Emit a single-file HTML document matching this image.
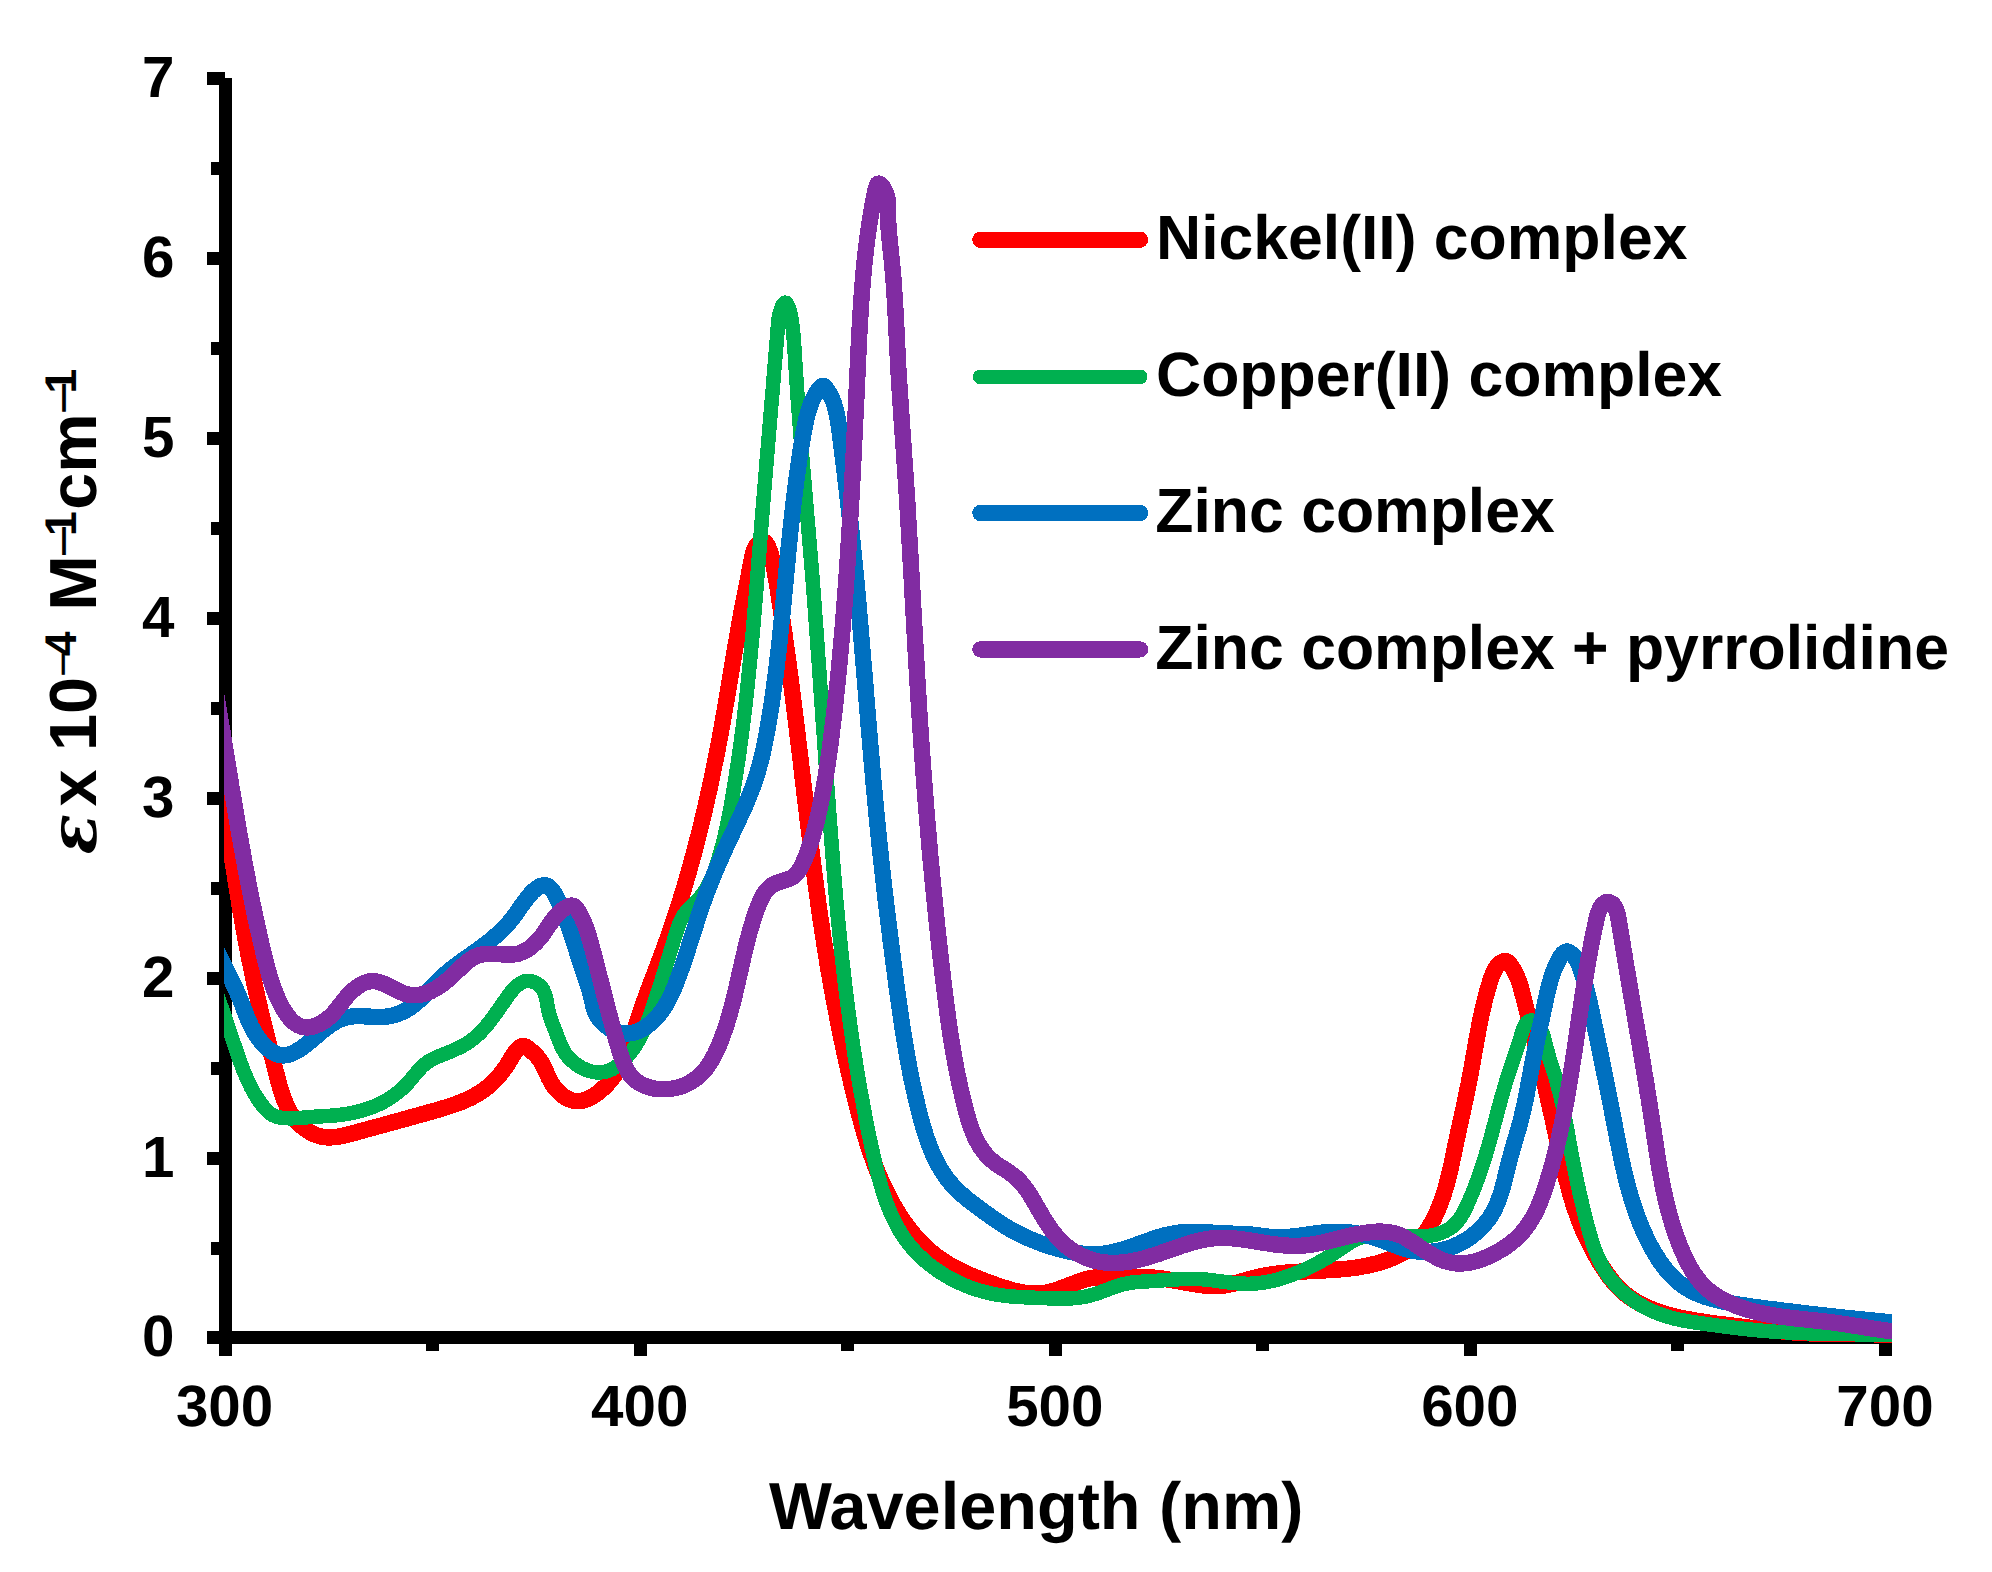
<!DOCTYPE html>
<html><head><meta charset="utf-8"><title>UV-vis spectra</title>
<style>
html,body{margin:0;padding:0;background:#fff}
svg{display:block}
text{font-family:"Liberation Sans",Arial,sans-serif;font-weight:bold;fill:#000}
.tk{font-size:58.33px}
.lg{font-size:62.5px}
.ti{font-size:66.67px}
</style></head>
<body>
<svg width="1992" height="1572" viewBox="0 0 1992 1572" shape-rendering="crispEdges" text-rendering="geometricPrecision">
<rect width="1992" height="1572" fill="#fff"/>
<defs><clipPath id="plot"><rect x="224" y="60" width="1668" height="1300"/></clipPath></defs>
<!-- axes -->
<g fill="#000">
<rect x="218.5" y="78" width="13" height="1277.5"/>
<rect x="207" y="1331" width="1685" height="13"/>
<!-- y major ticks -->
<g id="ymaj"><rect x="207" y="71.5" width="18" height="13"/><rect x="207" y="251.5" width="18" height="13"/><rect x="207" y="431.5" width="18" height="13"/><rect x="207" y="611.5" width="18" height="13"/><rect x="207" y="791.5" width="18" height="13"/><rect x="207" y="971.5" width="18" height="13"/><rect x="207" y="1151.5" width="18" height="13"/></g>
<!-- y minor ticks -->
<g id="ymin"><rect x="211.3" y="161.5" width="10" height="13"/><rect x="211.3" y="341.5" width="10" height="13"/><rect x="211.3" y="521.5" width="10" height="13"/><rect x="211.3" y="701.5" width="10" height="13"/><rect x="211.3" y="881.5" width="10" height="13"/><rect x="211.3" y="1061.5" width="10" height="13"/><rect x="211.3" y="1241.5" width="10" height="13"/></g>
<!-- x major ticks -->
<g id="xmaj"><rect x="633.8" y="1338" width="13" height="17.5"/><rect x="1048.9" y="1338" width="13" height="17.5"/><rect x="1463.9" y="1338" width="13" height="17.5"/><rect x="1879" y="1338" width="13" height="17.5"/></g>
<!-- x minor ticks -->
<g id="xmin"><rect x="426.3" y="1338" width="13" height="13"/><rect x="841.3" y="1338" width="13" height="13"/><rect x="1256.4" y="1338" width="13" height="13"/><rect x="1671.4" y="1338" width="13" height="13"/></g>
</g>
<!-- curves -->
<g clip-path="url(#plot)" fill="none" stroke-width="16.4" stroke-linejoin="round" stroke-linecap="round">
<path d="M215.7 742.4C216.2 745.3 216.6 748.3 217.0 751.3C217.4 754.2 217.8 757.2 218.3 760.2C218.7 763.1 219.1 766.1 219.5 769.1C219.9 772.0 220.3 775.0 220.7 778.0C221.1 780.9 221.6 783.9 222.0 786.9C222.4 789.8 222.8 792.8 223.2 795.8C223.6 798.7 224.0 801.7 224.5 804.7C224.9 807.7 225.3 810.6 225.7 813.6C226.1 816.6 226.5 819.5 227.0 822.5C227.4 825.5 227.8 828.5 228.2 831.4C228.7 834.4 229.1 837.4 229.5 840.3C230.0 843.3 230.4 846.3 230.8 849.3C231.3 852.2 231.7 855.2 232.2 858.2C232.6 861.2 233.0 864.1 233.5 867.1C234.0 870.1 234.4 873.0 234.9 876.0C235.3 879.0 235.8 881.9 236.3 884.9C236.7 887.9 237.2 890.8 237.7 893.8C238.2 896.8 238.7 899.7 239.2 902.7C239.6 905.6 240.1 908.6 240.6 911.6C241.1 914.5 241.7 917.5 242.2 920.4C242.7 923.4 243.2 926.3 243.7 929.3C244.3 932.2 244.8 935.2 245.4 938.1C245.9 941.1 246.4 944.0 247.0 947.0C247.6 949.9 248.1 952.9 248.7 955.8C249.3 958.7 249.9 961.7 250.5 964.6C251.1 967.5 251.7 970.5 252.3 973.4C252.9 976.3 253.5 979.3 254.1 982.2C254.8 985.1 255.4 988.0 256.0 991.0C256.7 993.9 257.3 996.8 258.0 999.7C258.7 1002.6 259.4 1005.5 260.0 1008.4C260.7 1011.3 261.4 1014.3 262.1 1017.2C262.8 1020.1 263.5 1023.0 264.2 1025.9C264.9 1028.8 265.7 1031.7 266.4 1034.6C267.1 1037.5 267.8 1040.4 268.6 1043.3C269.3 1046.3 270.1 1049.2 270.8 1052.1C271.6 1055.0 272.3 1057.9 273.1 1060.8C273.8 1063.8 274.6 1066.7 275.3 1069.6C276.1 1072.5 276.9 1075.5 277.6 1078.4C278.4 1081.3 279.2 1084.3 280.0 1087.2C280.9 1090.1 281.7 1093.0 282.7 1095.8C283.7 1098.6 284.8 1101.4 286.0 1104.1C287.2 1106.8 288.5 1109.5 290.0 1112.0C291.5 1114.6 293.2 1117.0 295.1 1119.4C297.0 1121.7 299.1 1123.9 301.4 1126.0C303.6 1128.0 306.1 1129.8 308.6 1131.4C311.2 1133.0 313.8 1134.3 316.6 1135.3C319.4 1136.3 322.2 1136.9 325.1 1137.2C328.0 1137.5 330.9 1137.4 333.9 1137.2C336.8 1136.9 339.8 1136.4 342.8 1135.8C345.8 1135.1 348.9 1134.4 351.9 1133.6C354.9 1132.8 357.8 1131.9 360.8 1131.1C363.7 1130.3 366.7 1129.5 369.6 1128.7C372.5 1127.9 375.4 1127.1 378.3 1126.3C381.1 1125.6 384.0 1124.8 386.9 1124.0C389.7 1123.2 392.6 1122.4 395.4 1121.6C398.3 1120.8 401.1 1120.1 404.0 1119.3C406.8 1118.5 409.7 1117.7 412.5 1116.9C415.4 1116.1 418.2 1115.3 421.1 1114.5C424.0 1113.7 426.9 1112.9 429.8 1112.1C432.7 1111.3 435.6 1110.5 438.6 1109.6C441.5 1108.7 444.4 1107.9 447.3 1106.9C450.2 1106.0 453.1 1105.0 456.0 1104.0C458.8 1103.0 461.6 1101.9 464.4 1100.7C467.1 1099.5 469.9 1098.2 472.5 1096.9C475.2 1095.5 477.7 1094.0 480.2 1092.4C482.7 1090.8 485.1 1089.1 487.4 1087.3C489.7 1085.4 491.9 1083.5 494.0 1081.3C496.1 1079.2 498.1 1077.0 500.0 1074.7C502.0 1072.4 503.8 1069.9 505.5 1067.4C507.2 1064.9 508.9 1062.3 510.4 1059.6C512.0 1057.0 513.4 1054.2 515.3 1051.8C517.1 1049.4 519.5 1047.0 522.0 1046.1C524.5 1045.3 526.7 1047.0 529.1 1049.0C531.4 1051.0 534.0 1053.2 536.3 1055.6C538.5 1057.9 540.2 1060.4 541.7 1062.9C543.2 1065.5 544.4 1068.1 545.6 1070.7C546.8 1073.3 547.9 1076.0 549.2 1078.6C550.4 1081.2 551.9 1083.8 553.7 1086.3C555.5 1088.8 557.6 1091.2 559.9 1093.3C562.3 1095.4 564.8 1097.2 567.4 1098.6C570.1 1100.0 572.9 1100.9 575.7 1101.2C578.5 1101.5 581.3 1101.1 584.1 1100.3C587.0 1099.4 589.7 1098.1 592.4 1096.6C595.1 1095.0 597.6 1093.1 600.0 1091.1C602.4 1089.2 604.6 1087.1 606.7 1085.0C608.7 1082.8 610.6 1080.5 612.4 1078.2C614.2 1075.9 615.8 1073.4 617.4 1070.9C618.9 1068.4 620.3 1065.9 621.7 1063.3C623.0 1060.6 624.3 1057.9 625.4 1055.2C626.6 1052.5 627.7 1049.7 628.8 1046.9C629.8 1044.1 630.8 1041.3 631.8 1038.4C632.8 1035.5 633.7 1032.7 634.7 1029.8C635.6 1026.9 636.5 1024.0 637.5 1021.1C638.4 1018.2 639.3 1015.3 640.3 1012.4C641.3 1009.6 642.3 1006.7 643.3 1003.9C644.3 1001.0 645.3 998.2 646.3 995.3C647.4 992.5 648.4 989.7 649.5 986.9C650.5 984.1 651.6 981.3 652.7 978.4C653.7 975.6 654.8 972.8 655.9 970.0C656.9 967.2 658.0 964.4 659.1 961.6C660.1 958.8 661.2 956.0 662.2 953.2C663.3 950.4 664.3 947.6 665.3 944.8C666.3 942.0 667.3 939.2 668.3 936.3C669.3 933.5 670.3 930.7 671.3 927.8C672.2 925.0 673.2 922.2 674.1 919.3C675.1 916.5 676.0 913.7 676.9 910.8C677.8 908.0 678.8 905.1 679.7 902.3C680.6 899.4 681.4 896.5 682.3 893.7C683.2 890.8 684.1 887.9 684.9 885.1C685.8 882.2 686.6 879.3 687.4 876.5C688.3 873.6 689.1 870.7 689.9 867.8C690.7 864.9 691.5 862.0 692.3 859.1C693.1 856.3 693.9 853.4 694.6 850.5C695.4 847.6 696.1 844.7 696.9 841.8C697.6 838.9 698.4 836.0 699.1 833.1C699.8 830.2 700.6 827.2 701.3 824.3C702.0 821.4 702.7 818.5 703.4 815.6C704.1 812.7 704.8 809.7 705.4 806.8C706.1 803.9 706.8 801.0 707.4 798.0C708.1 795.1 708.7 792.2 709.4 789.3C710.0 786.3 710.6 783.4 711.3 780.5C711.9 777.5 712.5 774.6 713.1 771.6C713.7 768.7 714.3 765.8 714.9 762.8C715.5 759.9 716.1 756.9 716.7 754.0C717.3 751.0 717.8 748.1 718.4 745.1C719.0 742.2 719.5 739.2 720.1 736.3C720.6 733.3 721.1 730.4 721.7 727.4C722.2 724.5 722.7 721.5 723.3 718.6C723.8 715.6 724.3 712.7 724.8 709.7C725.3 706.7 725.8 703.8 726.4 700.8C726.9 697.9 727.4 694.9 727.9 692.0C728.4 689.0 728.8 686.0 729.3 683.1C729.8 680.1 730.3 677.2 730.8 674.2C731.3 671.2 731.8 668.3 732.3 665.3C732.8 662.4 733.3 659.4 733.8 656.5C734.3 653.5 734.8 650.6 735.3 647.6C735.8 644.7 736.3 641.7 736.8 638.8C737.3 635.8 737.8 632.9 738.3 629.9C738.8 627.0 739.4 624.0 739.9 621.1C740.4 618.2 741.0 615.2 741.5 612.3C742.1 609.4 742.6 606.4 743.2 603.5C743.7 600.6 744.3 597.6 744.9 594.7C745.4 591.8 746.0 588.9 746.6 585.9C747.2 583.0 747.8 580.0 748.4 577.1C749.0 574.1 749.5 571.1 750.1 568.1C750.7 565.1 751.3 562.1 751.9 559.0C752.4 556.0 753.1 552.9 754.1 550.2C755.2 547.4 756.6 544.8 758.8 542.9C761.0 540.9 763.5 540.4 765.4 542.4C767.3 544.3 768.7 547.9 769.8 551.0C770.9 554.2 771.7 557.0 772.4 559.8C773.1 562.7 773.7 565.6 774.3 568.5C774.8 571.4 775.3 574.3 775.8 577.3C776.3 580.2 776.8 583.2 777.3 586.1C777.8 589.1 778.2 592.1 778.7 595.0C779.1 598.0 779.6 601.0 780.0 603.9C780.5 606.9 780.9 609.9 781.4 612.8C781.8 615.8 782.2 618.8 782.7 621.7C783.1 624.7 783.5 627.7 784.0 630.7C784.4 633.6 784.8 636.6 785.2 639.6C785.6 642.5 786.1 645.5 786.5 648.5C786.9 651.5 787.3 654.4 787.7 657.4C788.1 660.4 788.5 663.4 788.9 666.3C789.3 669.3 789.7 672.3 790.1 675.2C790.5 678.2 790.9 681.2 791.3 684.2C791.6 687.2 792.0 690.1 792.4 693.1C792.8 696.1 793.2 699.1 793.5 702.0C793.9 705.0 794.3 708.0 794.7 711.0C795.0 713.9 795.4 716.9 795.8 719.9C796.1 722.9 796.5 725.8 796.8 728.8C797.2 731.8 797.6 734.8 797.9 737.8C798.3 740.7 798.6 743.7 799.0 746.7C799.4 749.7 799.7 752.6 800.1 755.6C800.4 758.6 800.8 761.6 801.1 764.6C801.5 767.5 801.8 770.5 802.2 773.5C802.5 776.5 802.9 779.4 803.2 782.4C803.6 785.4 803.9 788.4 804.3 791.4C804.6 794.3 805.0 797.3 805.3 800.3C805.7 803.3 806.0 806.2 806.4 809.2C806.7 812.2 807.1 815.2 807.4 818.1C807.8 821.1 808.2 824.1 808.5 827.1C808.9 830.1 809.2 833.0 809.6 836.0C810.0 839.0 810.3 842.0 810.7 844.9C811.1 847.9 811.4 850.9 811.8 853.9C812.2 856.8 812.6 859.8 812.9 862.8C813.3 865.8 813.7 868.7 814.1 871.7C814.5 874.7 814.9 877.6 815.3 880.6C815.6 883.6 816.0 886.6 816.4 889.5C816.8 892.5 817.3 895.5 817.7 898.4C818.1 901.4 818.5 904.4 818.9 907.4C819.3 910.3 819.8 913.3 820.2 916.3C820.6 919.2 821.0 922.2 821.5 925.2C821.9 928.1 822.4 931.1 822.8 934.1C823.3 937.0 823.7 940.0 824.2 943.0C824.7 945.9 825.1 948.9 825.6 951.9C826.1 954.8 826.6 957.8 827.1 960.7C827.5 963.7 828.0 966.7 828.5 969.6C829.0 972.6 829.5 975.5 830.1 978.5C830.6 981.5 831.1 984.4 831.6 987.4C832.2 990.3 832.7 993.3 833.2 996.2C833.8 999.2 834.3 1002.1 834.9 1005.1C835.4 1008.0 836.0 1011.0 836.6 1013.9C837.1 1016.9 837.7 1019.8 838.3 1022.8C838.9 1025.7 839.4 1028.7 840.0 1031.6C840.6 1034.5 841.2 1037.5 841.9 1040.4C842.5 1043.3 843.1 1046.3 843.7 1049.2C844.3 1052.1 845.0 1055.1 845.6 1058.0C846.3 1060.9 846.9 1063.9 847.6 1066.8C848.2 1069.7 848.9 1072.6 849.6 1075.5C850.2 1078.5 850.9 1081.4 851.6 1084.3C852.3 1087.2 853.0 1090.1 853.7 1093.0C854.4 1095.9 855.1 1098.9 855.9 1101.8C856.6 1104.7 857.3 1107.6 858.1 1110.5C858.8 1113.4 859.6 1116.3 860.4 1119.1C861.1 1122.0 861.9 1124.9 862.7 1127.8C863.6 1130.7 864.4 1133.5 865.3 1136.4C866.1 1139.3 867.0 1142.1 867.9 1145.0C868.8 1147.8 869.8 1150.7 870.8 1153.5C871.7 1156.3 872.8 1159.2 873.8 1162.0C874.8 1164.8 875.9 1167.6 877.0 1170.4C878.1 1173.2 879.3 1176.0 880.5 1178.7C881.7 1181.5 882.9 1184.3 884.2 1187.0C885.5 1189.7 886.8 1192.5 888.2 1195.1C889.6 1197.8 891.0 1200.5 892.5 1203.2C894.0 1205.8 895.5 1208.4 897.1 1211.0C898.6 1213.5 900.3 1216.1 901.9 1218.6C903.6 1221.1 905.3 1223.5 907.1 1225.9C908.9 1228.3 910.7 1230.7 912.6 1232.9C914.5 1235.2 916.5 1237.5 918.5 1239.6C920.5 1241.8 922.6 1243.9 924.7 1246.0C926.9 1248.0 929.1 1250.0 931.3 1251.9C933.6 1253.8 935.9 1255.6 938.3 1257.4C940.7 1259.1 943.1 1260.8 945.6 1262.3C948.1 1263.9 950.7 1265.4 953.3 1266.9C956.0 1268.3 958.6 1269.7 961.4 1271.0C964.1 1272.3 966.8 1273.6 969.6 1274.8C972.4 1276.0 975.2 1277.2 978.1 1278.3C980.9 1279.4 983.8 1280.5 986.7 1281.6C989.6 1282.7 992.4 1283.7 995.3 1284.8C998.3 1285.8 1001.2 1286.8 1004.1 1287.7C1007.0 1288.6 1009.9 1289.5 1012.8 1290.3C1015.7 1291.0 1018.6 1291.7 1021.6 1292.2C1024.5 1292.8 1027.4 1293.1 1030.3 1293.4C1033.2 1293.6 1036.1 1293.6 1039.0 1293.5C1041.9 1293.4 1044.7 1293.0 1047.6 1292.4C1050.5 1291.8 1053.3 1291.0 1056.2 1290.1C1059.0 1289.1 1061.9 1288.0 1064.7 1286.9C1067.6 1285.8 1070.4 1284.7 1073.3 1283.6C1076.1 1282.5 1079.0 1281.4 1081.9 1280.5C1084.8 1279.6 1087.7 1278.8 1090.6 1278.2C1093.5 1277.7 1096.5 1277.3 1099.4 1277.1C1102.4 1277.0 1105.4 1276.9 1108.4 1276.9C1111.4 1277.0 1114.4 1277.1 1117.4 1277.2C1120.4 1277.3 1123.4 1277.4 1126.4 1277.4C1129.4 1277.4 1132.3 1277.4 1135.3 1277.3C1138.3 1277.3 1141.3 1277.2 1144.3 1277.3C1147.2 1277.3 1150.2 1277.4 1153.2 1277.6C1156.2 1277.8 1159.2 1278.1 1162.2 1278.6C1165.2 1279.0 1168.2 1279.5 1171.2 1280.0C1174.2 1280.5 1177.2 1281.1 1180.2 1281.6C1183.2 1282.2 1186.2 1282.8 1189.2 1283.3C1192.2 1283.8 1195.1 1284.3 1198.1 1284.7C1201.1 1285.2 1204.1 1285.5 1207.1 1285.7C1210.0 1285.9 1213.0 1286.0 1215.9 1286.0C1218.9 1286.0 1221.8 1285.8 1224.8 1285.4C1227.7 1285.0 1230.6 1284.4 1233.5 1283.6C1236.5 1282.9 1239.4 1282.1 1242.3 1281.2C1245.2 1280.3 1248.1 1279.5 1251.0 1278.7C1253.9 1277.9 1256.9 1277.1 1259.8 1276.5C1262.7 1275.9 1265.7 1275.3 1268.7 1274.9C1271.6 1274.4 1274.6 1274.0 1277.5 1273.6C1280.5 1273.2 1283.5 1272.9 1286.5 1272.6C1289.4 1272.4 1292.4 1272.1 1295.4 1271.9C1298.4 1271.7 1301.4 1271.6 1304.4 1271.4C1307.4 1271.3 1310.4 1271.1 1313.4 1271.0C1316.3 1270.8 1319.3 1270.7 1322.3 1270.5C1325.3 1270.4 1328.3 1270.2 1331.3 1270.0C1334.3 1269.8 1337.3 1269.6 1340.3 1269.3C1343.2 1269.1 1346.2 1268.8 1349.2 1268.5C1352.2 1268.1 1355.1 1267.7 1358.1 1267.3C1361.0 1266.8 1364.0 1266.3 1366.9 1265.7C1369.9 1265.1 1372.8 1264.4 1375.7 1263.7C1378.7 1262.9 1381.6 1262.0 1384.5 1261.1C1387.3 1260.1 1390.2 1259.1 1392.9 1257.9C1395.7 1256.7 1398.4 1255.4 1401.1 1254.0C1403.7 1252.6 1406.2 1251.0 1408.6 1249.3C1411.1 1247.6 1413.4 1245.8 1415.5 1243.8C1417.7 1241.8 1419.7 1239.6 1421.7 1237.4C1423.6 1235.1 1425.4 1232.7 1427.1 1230.2C1428.7 1227.7 1430.3 1225.1 1431.8 1222.5C1433.3 1219.8 1434.6 1217.1 1435.9 1214.3C1437.2 1211.6 1438.4 1208.8 1439.5 1205.9C1440.6 1203.1 1441.7 1200.2 1442.6 1197.4C1443.6 1194.5 1444.5 1191.7 1445.4 1188.8C1446.2 1185.9 1447.0 1183.0 1447.8 1180.1C1448.5 1177.3 1449.2 1174.4 1449.9 1171.5C1450.6 1168.6 1451.2 1165.7 1451.9 1162.7C1452.5 1159.8 1453.1 1156.9 1453.7 1154.0C1454.3 1151.1 1454.9 1148.1 1455.5 1145.2C1456.1 1142.3 1456.7 1139.3 1457.4 1136.4C1458.0 1133.5 1458.6 1130.5 1459.3 1127.6C1459.9 1124.6 1460.6 1121.7 1461.2 1118.7C1461.9 1115.8 1462.5 1112.8 1463.2 1109.9C1463.8 1106.9 1464.4 1104.0 1465.1 1101.0C1465.7 1098.1 1466.3 1095.1 1466.9 1092.2C1467.5 1089.3 1468.1 1086.3 1468.7 1083.4C1469.3 1080.4 1469.9 1077.5 1470.4 1074.5C1470.9 1071.6 1471.5 1068.7 1472.0 1065.7C1472.5 1062.8 1473.0 1059.9 1473.5 1056.9C1474.0 1054.0 1474.6 1051.1 1475.1 1048.1C1475.6 1045.2 1476.1 1042.3 1476.6 1039.4C1477.2 1036.4 1477.7 1033.5 1478.3 1030.6C1478.8 1027.6 1479.4 1024.7 1480.0 1021.8C1480.6 1018.8 1481.2 1015.9 1481.8 1013.0C1482.5 1010.0 1483.2 1007.1 1483.9 1004.1C1484.6 1001.2 1485.3 998.2 1486.1 995.3C1486.9 992.3 1487.8 989.4 1488.6 986.4C1489.5 983.5 1490.4 980.5 1491.4 977.6C1492.4 974.6 1493.6 971.8 1495.0 969.2C1496.4 966.7 1498.2 964.5 1500.4 963.0C1502.7 961.4 1505.6 960.2 1507.8 961.9C1510.0 963.6 1511.8 966.7 1513.4 969.4C1515.0 972.1 1516.3 974.8 1517.5 977.6C1518.6 980.4 1519.6 983.2 1520.5 986.1C1521.3 989.0 1522.1 991.9 1522.8 994.8C1523.6 997.7 1524.3 1000.6 1525.0 1003.5C1525.7 1006.4 1526.4 1009.3 1527.2 1012.2C1527.9 1015.1 1528.7 1018.0 1529.4 1020.9C1530.2 1023.8 1531.0 1026.8 1531.7 1029.7C1532.5 1032.6 1533.2 1035.5 1533.9 1038.4C1534.7 1041.3 1535.4 1044.2 1536.1 1047.1C1536.9 1050.0 1537.6 1052.9 1538.3 1055.9C1539.0 1058.8 1539.7 1061.7 1540.3 1064.6C1541.0 1067.5 1541.7 1070.4 1542.4 1073.4C1543.1 1076.3 1543.7 1079.2 1544.4 1082.1C1545.0 1085.0 1545.7 1088.0 1546.3 1090.9C1547.0 1093.8 1547.6 1096.7 1548.3 1099.7C1548.9 1102.6 1549.6 1105.5 1550.2 1108.4C1550.9 1111.4 1551.5 1114.3 1552.2 1117.2C1552.8 1120.2 1553.5 1123.1 1554.1 1126.0C1554.7 1128.9 1555.4 1131.9 1556.0 1134.8C1556.7 1137.7 1557.3 1140.7 1558.0 1143.6C1558.7 1146.5 1559.3 1149.4 1560.0 1152.4C1560.7 1155.3 1561.3 1158.2 1562.0 1161.2C1562.7 1164.1 1563.4 1167.0 1564.1 1170.0C1564.8 1172.9 1565.5 1175.8 1566.2 1178.7C1567.0 1181.6 1567.7 1184.5 1568.5 1187.4C1569.3 1190.3 1570.1 1193.2 1570.9 1196.1C1571.8 1199.0 1572.6 1201.8 1573.5 1204.7C1574.4 1207.5 1575.4 1210.4 1576.4 1213.2C1577.4 1216.0 1578.4 1218.8 1579.5 1221.5C1580.5 1224.3 1581.7 1227.0 1582.8 1229.8C1584.0 1232.5 1585.3 1235.2 1586.5 1237.9C1587.8 1240.6 1589.1 1243.2 1590.5 1245.9C1591.8 1248.6 1593.2 1251.3 1594.7 1253.9C1596.2 1256.6 1597.7 1259.2 1599.2 1261.8C1600.8 1264.4 1602.4 1267.0 1604.1 1269.5C1605.8 1272.1 1607.5 1274.5 1609.3 1276.9C1611.1 1279.3 1613.0 1281.6 1615.0 1283.9C1617.0 1286.1 1619.0 1288.2 1621.2 1290.3C1623.3 1292.3 1625.6 1294.2 1627.9 1296.0C1630.2 1297.7 1632.7 1299.4 1635.2 1300.9C1637.7 1302.5 1640.3 1303.9 1642.9 1305.2C1645.6 1306.6 1648.3 1307.8 1651.1 1308.9C1653.9 1310.1 1656.7 1311.1 1659.6 1312.1C1662.5 1313.0 1665.4 1313.9 1668.3 1314.7C1671.3 1315.5 1674.3 1316.3 1677.2 1317.0C1680.2 1317.6 1683.2 1318.3 1686.2 1318.9C1689.3 1319.4 1692.3 1320.0 1695.3 1320.5C1698.3 1321.0 1701.3 1321.5 1704.2 1321.9C1707.2 1322.3 1710.1 1322.8 1713.1 1323.2C1716.0 1323.6 1719.0 1324.0 1721.9 1324.3C1724.8 1324.7 1727.8 1325.0 1730.7 1325.4C1733.6 1325.8 1736.5 1326.1 1739.5 1326.5C1742.4 1326.8 1745.4 1327.2 1748.3 1327.5C1751.3 1327.9 1754.2 1328.2 1757.2 1328.6C1760.2 1329.0 1763.2 1329.3 1766.1 1329.7C1769.1 1330.0 1772.1 1330.4 1775.1 1330.7C1778.1 1331.0 1781.1 1331.3 1784.1 1331.6C1787.1 1331.9 1790.1 1332.2 1793.1 1332.4C1796.1 1332.6 1799.1 1332.8 1802.1 1333.0C1805.1 1333.2 1808.1 1333.3 1811.1 1333.4C1814.1 1333.6 1817.1 1333.6 1820.1 1333.7C1823.1 1333.8 1826.1 1333.8 1829.1 1333.9C1832.1 1333.9 1835.1 1334.0 1838.1 1334.0C1841.1 1334.0 1844.1 1334.0 1847.1 1334.0C1850.1 1334.0 1853.1 1334.1 1856.0 1334.1C1859.0 1334.1 1862.0 1334.1 1865.0 1334.2C1868.0 1334.2 1871.0 1334.2 1874.0 1334.3C1877.0 1334.4 1880.0 1334.5 1883.0 1334.6C1886.0 1334.7 1889.0 1334.8 1892.0 1335.0C1895.0 1335.1 1898.0 1335.3 1901.0 1335.5C1904.0 1335.7 1907.0 1336.0 1910.0 1336.3" stroke="#FF0000"/>
<path d="M210.0 978.3C211.2 981.0 212.4 983.8 213.6 986.6C214.7 989.3 215.8 992.1 216.9 994.9C218.0 997.7 219.1 1000.5 220.1 1003.3C221.1 1006.1 222.1 1009.0 223.1 1011.8C224.1 1014.6 225.1 1017.5 226.1 1020.3C227.0 1023.2 228.0 1026.0 228.9 1028.8C229.9 1031.7 230.8 1034.5 231.8 1037.4C232.7 1040.2 233.7 1043.1 234.7 1045.9C235.6 1048.7 236.6 1051.6 237.6 1054.4C238.6 1057.2 239.6 1060.1 240.6 1062.9C241.7 1065.7 242.7 1068.5 243.8 1071.3C245.0 1074.1 246.1 1076.8 247.3 1079.6C248.6 1082.3 249.9 1085.0 251.2 1087.7C252.6 1090.3 254.0 1093.0 255.6 1095.5C257.2 1098.1 258.8 1100.6 260.6 1103.1C262.4 1105.5 264.3 1108.0 266.4 1110.1C268.5 1112.3 270.8 1114.1 273.4 1115.5C276.0 1116.8 279.0 1117.5 282.1 1117.9C285.1 1118.2 288.2 1118.4 291.2 1118.3C294.2 1118.3 297.2 1118.1 300.1 1117.9C303.1 1117.7 306.1 1117.4 309.0 1117.1C312.0 1116.9 315.0 1116.7 318.0 1116.5C321.0 1116.3 324.0 1116.2 327.0 1116.0C330.0 1115.8 333.0 1115.6 336.0 1115.3C339.0 1115.0 342.0 1114.6 345.0 1114.2C347.9 1113.7 350.9 1113.2 353.8 1112.6C356.7 1111.9 359.6 1111.2 362.5 1110.4C365.4 1109.6 368.2 1108.6 371.0 1107.6C373.8 1106.5 376.6 1105.4 379.3 1104.1C382.0 1102.8 384.7 1101.3 387.2 1099.8C389.8 1098.3 392.3 1096.6 394.7 1094.8C397.2 1093.0 399.5 1091.1 401.7 1089.1C404.0 1087.1 406.1 1085.0 408.1 1082.7C410.1 1080.5 412.1 1078.1 414.0 1075.8C415.9 1073.5 417.8 1071.1 419.8 1069.0C421.8 1066.8 423.9 1064.8 426.3 1063.0C428.6 1061.2 431.1 1059.8 433.8 1058.5C436.5 1057.2 439.3 1056.1 442.1 1054.9C445.0 1053.8 447.9 1052.7 450.7 1051.5C453.5 1050.3 456.3 1049.1 459.1 1047.7C461.8 1046.4 464.4 1045.0 466.9 1043.4C469.4 1041.8 471.8 1040.1 474.0 1038.3C476.2 1036.5 478.4 1034.5 480.4 1032.5C482.4 1030.4 484.4 1028.3 486.3 1026.0C488.2 1023.8 490.0 1021.4 491.8 1019.0C493.7 1016.6 495.4 1014.1 497.2 1011.6C499.0 1009.0 500.8 1006.4 502.6 1003.8C504.5 1001.2 506.3 998.4 508.2 995.8C510.1 993.2 512.1 990.6 514.2 988.4C516.3 986.2 518.5 984.3 520.9 983.0C523.2 981.7 525.7 980.9 528.4 980.9C531.1 981.0 534.0 981.9 536.6 983.4C539.2 984.9 541.5 987.0 543.0 989.6C544.5 992.1 545.5 995.0 546.1 998.1C546.8 1001.1 547.3 1004.4 547.8 1007.5C548.4 1010.7 549.1 1013.8 550.0 1016.7C550.9 1019.6 551.9 1022.4 553.0 1025.2C554.1 1028.0 555.3 1030.7 556.3 1033.4C557.4 1036.2 558.4 1038.9 559.5 1041.7C560.5 1044.4 561.7 1047.1 563.1 1049.7C564.5 1052.3 566.2 1054.8 568.2 1057.1C570.2 1059.4 572.5 1061.6 575.0 1063.5C577.5 1065.4 580.3 1067.1 583.1 1068.5C585.9 1069.9 588.8 1070.9 591.8 1071.6C594.7 1072.3 597.7 1072.6 600.5 1072.4C603.4 1072.3 606.1 1071.7 608.8 1070.7C611.4 1069.7 614.0 1068.3 616.4 1066.6C618.9 1064.9 621.2 1063.0 623.4 1060.8C625.5 1058.7 627.6 1056.4 629.6 1053.9C631.5 1051.5 633.3 1048.9 635.0 1046.4C636.6 1043.8 638.2 1041.2 639.6 1038.6C641.1 1036.0 642.4 1033.3 643.7 1030.6C644.9 1027.9 646.1 1025.2 647.2 1022.5C648.3 1019.7 649.4 1017.0 650.4 1014.2C651.4 1011.4 652.4 1008.6 653.4 1005.7C654.3 1002.9 655.3 1000.1 656.2 997.2C657.2 994.3 658.1 991.4 659.0 988.6C659.9 985.7 660.8 982.8 661.7 979.9C662.6 977.0 663.5 974.1 664.4 971.3C665.3 968.4 666.1 965.5 667.0 962.7C667.9 959.8 668.7 957.0 669.6 954.2C670.5 951.3 671.3 948.5 672.2 945.6C673.1 942.8 674.0 939.9 674.9 937.1C675.8 934.2 676.7 931.3 677.7 928.4C678.6 925.5 679.7 922.6 681.0 919.9C682.3 917.2 683.8 914.6 685.7 912.3C687.5 910.0 689.8 907.9 692.0 905.8C694.3 903.8 696.5 901.7 698.4 899.4C700.4 897.1 702.2 894.8 703.8 892.3C705.5 889.8 707.0 887.3 708.4 884.7C709.7 882.0 711.0 879.3 712.2 876.6C713.3 873.8 714.4 871.0 715.4 868.2C716.4 865.4 717.3 862.5 718.2 859.7C719.1 856.8 720.0 853.9 720.8 851.0C721.6 848.1 722.4 845.2 723.1 842.3C723.8 839.4 724.5 836.5 725.2 833.6C725.9 830.6 726.5 827.7 727.1 824.8C727.7 821.8 728.3 818.9 728.9 815.9C729.5 813.0 730.0 810.0 730.6 807.1C731.1 804.1 731.6 801.2 732.2 798.2C732.7 795.2 733.2 792.3 733.7 789.3C734.2 786.4 734.7 783.4 735.1 780.4C735.6 777.5 736.1 774.5 736.5 771.5C737.0 768.6 737.4 765.6 737.9 762.6C738.3 759.7 738.7 756.7 739.2 753.7C739.6 750.8 740.0 747.8 740.4 744.8C740.8 741.9 741.2 738.9 741.6 735.9C742.0 732.9 742.4 730.0 742.8 727.0C743.1 724.0 743.5 721.0 743.9 718.1C744.2 715.1 744.6 712.1 744.9 709.1C745.3 706.2 745.6 703.2 746.0 700.2C746.3 697.2 746.6 694.3 747.0 691.3C747.3 688.3 747.6 685.3 747.9 682.3C748.2 679.4 748.5 676.4 748.8 673.4C749.1 670.4 749.4 667.4 749.7 664.4C750.0 661.5 750.3 658.5 750.6 655.5C750.9 652.5 751.2 649.5 751.4 646.5C751.7 643.5 752.0 640.6 752.3 637.6C752.5 634.6 752.8 631.6 753.1 628.6C753.3 625.6 753.6 622.6 753.8 619.7C754.1 616.7 754.3 613.7 754.6 610.7C754.8 607.7 755.1 604.7 755.3 601.7C755.6 598.7 755.8 595.7 756.1 592.7C756.3 589.8 756.6 586.8 756.8 583.8C757.0 580.8 757.3 577.8 757.5 574.8C757.7 571.8 758.0 568.8 758.2 565.8C758.5 562.8 758.7 559.8 758.9 556.8C759.2 553.9 759.4 550.9 759.6 547.9C759.9 544.9 760.1 541.9 760.3 538.9C760.6 535.9 760.8 532.9 761.0 529.9C761.3 526.9 761.5 523.9 761.7 520.9C762.0 517.9 762.2 514.9 762.5 511.9C762.7 508.9 763.0 506.0 763.2 503.0C763.4 500.0 763.7 497.0 763.9 494.0C764.2 491.0 764.4 488.0 764.7 485.0C764.9 482.0 765.2 479.0 765.4 476.0C765.7 473.0 765.9 470.0 766.2 467.0C766.4 464.0 766.7 461.0 766.9 458.1C767.2 455.1 767.4 452.1 767.7 449.1C767.9 446.1 768.2 443.1 768.4 440.1C768.7 437.1 768.9 434.1 769.2 431.1C769.4 428.1 769.7 425.2 769.9 422.2C770.2 419.2 770.4 416.2 770.7 413.2C770.9 410.2 771.2 407.2 771.4 404.2C771.7 401.3 772.0 398.3 772.2 395.3C772.5 392.3 772.7 389.3 773.0 386.3C773.2 383.4 773.5 380.4 773.7 377.4C773.9 374.4 774.2 371.4 774.4 368.5C774.7 365.5 774.9 362.5 775.2 359.5C775.4 356.6 775.7 353.6 775.9 350.6C776.2 347.6 776.4 344.7 776.6 341.7C776.9 338.7 777.1 335.7 777.4 332.8C777.6 329.8 777.8 326.8 778.1 323.9C778.3 320.9 778.6 317.9 779.3 314.8C780.0 311.7 781.1 308.2 782.6 305.3C784.2 302.3 785.9 301.8 787.3 304.4C788.8 307.0 789.8 310.8 790.6 313.9C791.3 317.0 791.8 319.9 792.1 322.8C792.5 325.6 792.8 328.5 793.1 331.5C793.4 334.4 793.6 337.3 793.8 340.3C794.1 343.3 794.3 346.3 794.5 349.3C794.7 352.3 794.8 355.3 795.0 358.3C795.2 361.4 795.4 364.4 795.6 367.4C795.8 370.4 796.0 373.4 796.2 376.4C796.4 379.5 796.6 382.5 796.8 385.5C797.0 388.5 797.2 391.5 797.4 394.5C797.6 397.5 797.8 400.5 798.1 403.5C798.3 406.5 798.5 409.5 798.7 412.5C799.0 415.5 799.2 418.5 799.4 421.5C799.6 424.5 799.9 427.5 800.1 430.5C800.4 433.4 800.6 436.4 800.8 439.4C801.1 442.4 801.3 445.4 801.6 448.4C801.8 451.4 802.1 454.4 802.3 457.3C802.5 460.3 802.8 463.3 803.0 466.3C803.3 469.3 803.5 472.3 803.8 475.2C804.1 478.2 804.3 481.2 804.6 484.2C804.8 487.2 805.1 490.1 805.3 493.1C805.6 496.1 805.8 499.1 806.1 502.1C806.3 505.0 806.6 508.0 806.8 511.0C807.1 514.0 807.4 516.9 807.6 519.9C807.9 522.9 808.1 525.9 808.4 528.9C808.6 531.8 808.9 534.8 809.1 537.8C809.4 540.8 809.6 543.8 809.9 546.7C810.1 549.7 810.4 552.7 810.6 555.7C810.9 558.7 811.1 561.7 811.4 564.6C811.6 567.6 811.8 570.6 812.1 573.6C812.3 576.6 812.6 579.6 812.8 582.6C813.0 585.5 813.3 588.5 813.5 591.5C813.7 594.5 813.9 597.5 814.2 600.5C814.4 603.5 814.6 606.5 814.9 609.5C815.1 612.5 815.3 615.5 815.5 618.5C815.7 621.5 816.0 624.4 816.2 627.4C816.4 630.4 816.6 633.4 816.8 636.4C817.1 639.4 817.3 642.4 817.5 645.4C817.7 648.4 817.9 651.4 818.1 654.4C818.3 657.4 818.5 660.4 818.8 663.4C819.0 666.4 819.2 669.4 819.4 672.4C819.6 675.4 819.8 678.4 820.0 681.4C820.2 684.4 820.4 687.4 820.6 690.4C820.9 693.4 821.1 696.4 821.3 699.4C821.5 702.4 821.7 705.4 821.9 708.4C822.1 711.4 822.3 714.4 822.5 717.4C822.7 720.4 822.9 723.4 823.1 726.4C823.3 729.4 823.5 732.4 823.8 735.4C824.0 738.4 824.2 741.4 824.4 744.4C824.6 747.4 824.8 750.4 825.0 753.4C825.2 756.4 825.4 759.4 825.6 762.4C825.8 765.4 826.0 768.4 826.3 771.4C826.5 774.4 826.7 777.4 826.9 780.4C827.1 783.4 827.3 786.4 827.5 789.4C827.8 792.4 828.0 795.4 828.2 798.4C828.4 801.4 828.6 804.4 828.8 807.4C829.1 810.4 829.3 813.4 829.5 816.4C829.7 819.4 830.0 822.3 830.2 825.3C830.4 828.3 830.6 831.3 830.9 834.3C831.1 837.3 831.3 840.3 831.6 843.3C831.8 846.3 832.0 849.2 832.3 852.2C832.5 855.2 832.7 858.2 833.0 861.2C833.2 864.2 833.5 867.1 833.7 870.1C834.0 873.1 834.2 876.1 834.5 879.1C834.7 882.0 835.0 885.0 835.2 888.0C835.5 891.0 835.7 894.0 836.0 896.9C836.3 899.9 836.5 902.9 836.8 905.9C837.1 908.8 837.4 911.8 837.6 914.8C837.9 917.8 838.2 920.8 838.5 923.7C838.8 926.7 839.1 929.7 839.4 932.6C839.7 935.6 840.0 938.6 840.3 941.6C840.6 944.5 840.9 947.5 841.2 950.5C841.5 953.5 841.8 956.4 842.2 959.4C842.5 962.4 842.8 965.3 843.2 968.3C843.5 971.3 843.8 974.2 844.2 977.2C844.5 980.2 844.9 983.2 845.2 986.1C845.6 989.1 845.9 992.1 846.3 995.0C846.7 998.0 847.1 1001.0 847.4 1003.9C847.8 1006.9 848.2 1009.9 848.6 1012.8C849.0 1015.8 849.4 1018.8 849.8 1021.7C850.2 1024.7 850.6 1027.7 851.0 1030.6C851.5 1033.6 851.9 1036.6 852.3 1039.5C852.7 1042.5 853.2 1045.5 853.6 1048.4C854.1 1051.4 854.5 1054.4 855.0 1057.3C855.5 1060.3 855.9 1063.3 856.4 1066.2C856.9 1069.2 857.4 1072.2 857.9 1075.1C858.4 1078.1 858.9 1081.1 859.4 1084.0C859.9 1087.0 860.4 1090.0 860.9 1092.9C861.5 1095.9 862.0 1098.9 862.6 1101.8C863.1 1104.8 863.7 1107.8 864.2 1110.7C864.8 1113.7 865.3 1116.7 865.9 1119.6C866.5 1122.6 867.1 1125.6 867.7 1128.6C868.3 1131.5 868.9 1134.5 869.5 1137.5C870.1 1140.4 870.8 1143.4 871.4 1146.4C872.1 1149.3 872.7 1152.3 873.4 1155.3C874.0 1158.2 874.7 1161.2 875.4 1164.2C876.1 1167.1 876.8 1170.1 877.5 1173.0C878.3 1176.0 879.1 1178.9 879.9 1181.8C880.7 1184.7 881.5 1187.6 882.4 1190.5C883.3 1193.3 884.2 1196.2 885.2 1199.0C886.2 1201.8 887.2 1204.6 888.3 1207.4C889.4 1210.1 890.5 1212.8 891.7 1215.5C893.0 1218.2 894.2 1220.8 895.6 1223.4C896.9 1226.0 898.4 1228.6 899.9 1231.1C901.4 1233.6 903.0 1236.0 904.6 1238.4C906.3 1240.8 908.1 1243.1 909.9 1245.4C911.8 1247.7 913.7 1249.9 915.8 1252.1C917.8 1254.2 919.9 1256.3 922.2 1258.3C924.4 1260.3 926.6 1262.3 929.0 1264.2C931.3 1266.1 933.8 1267.9 936.2 1269.6C938.7 1271.4 941.3 1273.0 943.9 1274.6C946.5 1276.2 949.1 1277.7 951.8 1279.2C954.5 1280.6 957.3 1281.9 960.0 1283.2C962.8 1284.5 965.6 1285.7 968.5 1286.8C971.3 1287.9 974.2 1288.9 977.1 1289.8C980.0 1290.7 982.9 1291.6 985.8 1292.3C988.7 1293.0 991.7 1293.7 994.6 1294.2C997.6 1294.8 1000.5 1295.2 1003.5 1295.6C1006.4 1296.0 1009.4 1296.3 1012.3 1296.5C1015.3 1296.8 1018.2 1297.0 1021.2 1297.1C1024.2 1297.3 1027.2 1297.4 1030.1 1297.5C1033.1 1297.7 1036.1 1297.8 1039.1 1297.9C1042.1 1298.0 1045.2 1298.2 1048.2 1298.3C1051.2 1298.4 1054.2 1298.5 1057.2 1298.6C1060.2 1298.7 1063.2 1298.7 1066.2 1298.6C1069.2 1298.5 1072.2 1298.4 1075.2 1298.1C1078.1 1297.8 1081.1 1297.4 1084.0 1296.9C1086.9 1296.4 1089.8 1295.7 1092.6 1294.8C1095.4 1294.0 1098.3 1293.0 1101.1 1292.0C1103.9 1291.0 1106.7 1289.9 1109.5 1288.8C1112.3 1287.8 1115.1 1286.7 1118.0 1285.8C1120.8 1284.9 1123.7 1284.1 1126.6 1283.5C1129.5 1282.9 1132.5 1282.5 1135.5 1282.2C1138.5 1281.9 1141.5 1281.7 1144.5 1281.5C1147.6 1281.3 1150.6 1281.2 1153.6 1281.0C1156.6 1280.8 1159.6 1280.6 1162.7 1280.3C1165.7 1280.1 1168.7 1279.9 1171.7 1279.7C1174.6 1279.5 1177.6 1279.3 1180.6 1279.2C1183.6 1279.0 1186.6 1278.9 1189.6 1278.9C1192.6 1278.9 1195.5 1278.9 1198.5 1279.0C1201.5 1279.2 1204.5 1279.4 1207.5 1279.7C1210.4 1280.0 1213.4 1280.4 1216.4 1280.8C1219.4 1281.2 1222.3 1281.6 1225.3 1282.0C1228.3 1282.4 1231.3 1282.7 1234.3 1283.0C1237.2 1283.3 1240.2 1283.6 1243.2 1283.7C1246.2 1283.8 1249.1 1283.8 1252.1 1283.7C1255.1 1283.6 1258.0 1283.3 1261.0 1282.9C1264.0 1282.5 1266.9 1282.0 1269.8 1281.4C1272.8 1280.8 1275.7 1280.1 1278.6 1279.3C1281.5 1278.5 1284.4 1277.5 1287.2 1276.6C1290.1 1275.6 1292.9 1274.5 1295.7 1273.4C1298.5 1272.3 1301.3 1271.1 1304.0 1269.9C1306.7 1268.7 1309.4 1267.4 1312.1 1266.0C1314.8 1264.7 1317.4 1263.3 1320.0 1261.8C1322.7 1260.4 1325.2 1258.8 1327.8 1257.3C1330.4 1255.7 1332.9 1254.1 1335.4 1252.5C1337.9 1250.8 1340.4 1249.1 1342.9 1247.4C1345.3 1245.7 1347.8 1243.9 1350.3 1242.4C1352.9 1240.9 1355.5 1239.5 1358.2 1238.5C1361.0 1237.4 1363.8 1236.6 1366.7 1236.0C1369.6 1235.4 1372.6 1235.0 1375.6 1234.8C1378.6 1234.6 1381.6 1234.6 1384.7 1234.6C1387.7 1234.7 1390.8 1234.9 1393.8 1235.1C1396.9 1235.3 1399.9 1235.6 1402.9 1235.8C1405.9 1236.1 1409.0 1236.3 1412.0 1236.5C1415.0 1236.6 1417.9 1236.7 1420.9 1236.6C1423.9 1236.5 1426.8 1236.3 1429.8 1235.8C1432.7 1235.4 1435.6 1234.7 1438.4 1233.9C1441.2 1233.0 1443.9 1231.9 1446.4 1230.5C1449.0 1229.2 1451.4 1227.6 1453.5 1225.7C1455.7 1223.8 1457.7 1221.6 1459.4 1219.2C1461.2 1216.7 1462.8 1214.1 1464.2 1211.3C1465.6 1208.6 1467.0 1205.7 1468.2 1202.8C1469.5 1200.0 1470.7 1197.1 1471.8 1194.3C1473.0 1191.5 1474.1 1188.6 1475.2 1185.8C1476.3 1183.0 1477.3 1180.2 1478.3 1177.4C1479.3 1174.6 1480.3 1171.8 1481.2 1169.0C1482.2 1166.2 1483.1 1163.4 1484.0 1160.6C1484.9 1157.8 1485.7 1155.0 1486.6 1152.1C1487.4 1149.3 1488.2 1146.5 1489.1 1143.6C1489.9 1140.7 1490.7 1137.9 1491.5 1135.0C1492.2 1132.1 1493.0 1129.2 1493.8 1126.3C1494.6 1123.3 1495.3 1120.4 1496.1 1117.5C1496.9 1114.6 1497.7 1111.6 1498.4 1108.7C1499.2 1105.8 1500.0 1102.8 1500.8 1099.9C1501.6 1097.0 1502.4 1094.1 1503.3 1091.2C1504.1 1088.3 1504.9 1085.4 1505.8 1082.6C1506.7 1079.7 1507.6 1076.9 1508.5 1074.1C1509.4 1071.2 1510.3 1068.4 1511.3 1065.6C1512.2 1062.8 1513.2 1060.0 1514.1 1057.2C1515.1 1054.3 1516.0 1051.5 1517.0 1048.7C1517.9 1045.8 1518.8 1042.9 1519.7 1040.0C1520.7 1037.1 1521.6 1034.2 1522.4 1031.2C1523.3 1028.2 1524.2 1025.2 1526.2 1023.0C1528.1 1020.9 1531.4 1019.9 1534.3 1021.0C1537.2 1022.0 1539.0 1024.6 1540.2 1027.3C1541.4 1030.0 1542.4 1032.8 1543.3 1035.7C1544.2 1038.5 1545.0 1041.4 1545.7 1044.4C1546.5 1047.3 1547.2 1050.3 1548.0 1053.2C1548.7 1056.1 1549.6 1059.0 1550.5 1061.8C1551.4 1064.6 1552.3 1067.4 1553.2 1070.2C1554.2 1073.1 1555.0 1075.9 1555.9 1078.8C1556.7 1081.6 1557.5 1084.5 1558.2 1087.4C1559.0 1090.3 1559.7 1093.2 1560.4 1096.1C1561.1 1099.0 1561.7 1102.0 1562.4 1104.9C1563.0 1107.8 1563.6 1110.8 1564.2 1113.7C1564.8 1116.7 1565.3 1119.7 1565.9 1122.6C1566.4 1125.6 1567.0 1128.6 1567.5 1131.5C1568.1 1134.5 1568.6 1137.5 1569.1 1140.4C1569.6 1143.4 1570.2 1146.4 1570.7 1149.3C1571.2 1152.3 1571.8 1155.2 1572.3 1158.2C1572.9 1161.1 1573.4 1164.0 1574.0 1166.9C1574.6 1169.9 1575.2 1172.8 1575.8 1175.7C1576.4 1178.6 1577.0 1181.5 1577.6 1184.4C1578.3 1187.3 1578.9 1190.1 1579.6 1193.0C1580.2 1195.9 1580.9 1198.8 1581.6 1201.7C1582.3 1204.6 1583.0 1207.5 1583.7 1210.4C1584.4 1213.4 1585.2 1216.3 1585.9 1219.2C1586.7 1222.1 1587.4 1225.1 1588.2 1228.0C1589.0 1231.0 1589.8 1233.9 1590.7 1236.8C1591.6 1239.8 1592.5 1242.7 1593.5 1245.6C1594.4 1248.5 1595.5 1251.3 1596.6 1254.1C1597.8 1256.9 1599.0 1259.7 1600.3 1262.3C1601.6 1265.0 1603.1 1267.6 1604.6 1270.2C1606.2 1272.7 1607.8 1275.2 1609.6 1277.6C1611.4 1279.9 1613.3 1282.2 1615.3 1284.4C1617.3 1286.6 1619.3 1288.8 1621.5 1290.8C1623.7 1292.8 1625.9 1294.8 1628.3 1296.6C1630.6 1298.5 1633.0 1300.2 1635.5 1301.9C1638.0 1303.5 1640.5 1305.1 1643.2 1306.5C1645.8 1308.0 1648.4 1309.3 1651.2 1310.6C1653.9 1311.9 1656.7 1313.0 1659.5 1314.0C1662.3 1315.1 1665.1 1316.0 1668.0 1316.8C1670.9 1317.7 1673.8 1318.4 1676.7 1319.1C1679.7 1319.8 1682.6 1320.4 1685.6 1320.9C1688.6 1321.5 1691.6 1322.0 1694.6 1322.4C1697.6 1322.9 1700.6 1323.3 1703.6 1323.7C1706.6 1324.1 1709.6 1324.5 1712.6 1324.9C1715.5 1325.3 1718.5 1325.7 1721.5 1326.1C1724.5 1326.5 1727.5 1326.9 1730.4 1327.3C1733.4 1327.6 1736.4 1328.0 1739.3 1328.3C1742.3 1328.7 1745.3 1329.0 1748.2 1329.3C1751.2 1329.6 1754.2 1329.9 1757.1 1330.2C1760.1 1330.5 1763.1 1330.8 1766.0 1331.0C1769.0 1331.2 1772.0 1331.5 1775.0 1331.7C1778.0 1331.9 1781.0 1332.1 1783.9 1332.2C1786.9 1332.4 1789.9 1332.5 1792.9 1332.7C1795.9 1332.8 1798.9 1333.0 1801.9 1333.1C1804.9 1333.2 1807.9 1333.3 1810.9 1333.4C1813.9 1333.5 1816.9 1333.5 1820.0 1333.6C1823.0 1333.7 1826.0 1333.8 1829.0 1333.8C1832.0 1333.9 1835.0 1333.9 1838.0 1334.0C1841.0 1334.0 1844.0 1334.1 1847.0 1334.1C1850.0 1334.2 1853.0 1334.2 1856.1 1334.3C1859.1 1334.3 1862.1 1334.3 1865.1 1334.4C1868.1 1334.4 1871.1 1334.5 1874.1 1334.5C1877.1 1334.6 1880.1 1334.6 1883.1 1334.7C1886.1 1334.7 1889.1 1334.8 1892.1 1334.9C1895.0 1335.0 1898.0 1335.0 1901.0 1335.1C1904.0 1335.2 1907.0 1335.3 1909.9 1335.4" stroke="#00B050" stroke-width="14.5"/>
<path d="M210.0 938.0C211.4 940.7 212.7 943.4 214.1 946.1C215.4 948.7 216.8 951.4 218.2 954.0C219.6 956.7 221.0 959.3 222.3 962.0C223.7 964.7 225.1 967.3 226.4 970.0C227.8 972.6 229.1 975.3 230.5 978.0C231.8 980.7 233.1 983.4 234.3 986.1C235.6 988.8 236.8 991.5 238.0 994.3C239.2 997.0 240.3 999.8 241.4 1002.6C242.5 1005.4 243.6 1008.2 244.7 1011.0C245.8 1013.8 246.9 1016.6 248.0 1019.4C249.2 1022.1 250.5 1024.8 251.8 1027.5C253.2 1030.2 254.7 1032.8 256.3 1035.3C258.0 1037.8 259.8 1040.3 261.8 1042.6C263.8 1045.0 266.0 1047.2 268.4 1049.1C270.8 1051.0 273.3 1052.6 275.8 1053.8C278.4 1054.9 281.1 1055.5 283.8 1055.5C286.5 1055.4 289.2 1054.7 291.9 1053.6C294.6 1052.5 297.3 1050.9 299.9 1049.2C302.5 1047.4 305.1 1045.4 307.6 1043.5C310.1 1041.5 312.5 1039.4 314.9 1037.4C317.2 1035.4 319.6 1033.4 321.9 1031.4C324.2 1029.5 326.6 1027.7 329.0 1026.0C331.4 1024.3 333.8 1022.7 336.3 1021.4C338.8 1020.0 341.3 1018.9 344.0 1018.1C346.7 1017.2 349.5 1016.7 352.4 1016.4C355.3 1016.2 358.4 1016.1 361.4 1016.2C364.5 1016.3 367.7 1016.5 370.8 1016.7C374.0 1016.9 377.1 1017.0 380.2 1017.0C383.3 1016.9 386.4 1016.7 389.3 1016.2C392.3 1015.7 395.2 1014.9 397.9 1013.9C400.7 1012.9 403.4 1011.7 405.9 1010.2C408.5 1008.8 410.9 1007.2 413.3 1005.4C415.6 1003.6 417.8 1001.6 420.0 999.6C422.2 997.5 424.3 995.4 426.4 993.2C428.5 991.0 430.6 988.8 432.6 986.6C434.7 984.4 436.8 982.2 439.0 980.1C441.1 977.9 443.3 975.9 445.6 973.9C447.8 971.9 450.1 970.0 452.5 968.2C454.8 966.4 457.2 964.6 459.6 962.8C462.0 961.1 464.4 959.4 466.9 957.6C469.3 955.9 471.7 954.2 474.2 952.5C476.6 950.8 479.1 949.0 481.5 947.2C483.9 945.5 486.3 943.6 488.6 941.8C491.0 939.9 493.3 938.0 495.5 936.0C497.8 934.1 500.0 932.0 502.1 930.0C504.2 927.9 506.3 925.7 508.2 923.5C510.2 921.3 512.0 919.0 513.8 916.6C515.6 914.2 517.3 911.8 519.0 909.3C520.7 906.9 522.4 904.4 524.2 901.9C526.0 899.5 527.9 897.0 529.9 894.7C532.0 892.3 534.2 890.0 536.6 888.3C539.0 886.6 541.8 885.2 544.4 885.3C547.1 885.3 549.6 887.0 551.6 889.3C553.6 891.5 555.1 894.2 556.4 897.0C557.7 899.7 558.9 902.5 560.1 905.3C561.3 908.1 562.4 910.8 563.6 913.6C564.7 916.4 565.8 919.1 566.9 921.9C568.0 924.7 569.0 927.5 570.0 930.3C571.0 933.1 572.0 935.9 572.9 938.8C573.8 941.6 574.7 944.4 575.6 947.3C576.4 950.2 577.3 953.0 578.2 955.9C579.1 958.8 579.9 961.6 580.9 964.5C581.8 967.4 582.7 970.2 583.7 973.1C584.7 975.9 585.7 978.7 586.7 981.6C587.7 984.4 588.6 987.3 589.5 990.1C590.3 993.0 591.1 995.9 591.7 998.8C592.4 1001.6 592.8 1004.6 593.6 1007.4C594.3 1010.2 595.4 1013.0 597.0 1015.6C598.5 1018.2 600.4 1020.6 602.6 1022.8C604.8 1025.0 607.3 1027.0 609.9 1028.6C612.6 1030.2 615.4 1031.4 618.3 1032.3C621.1 1033.2 624.1 1033.6 627.0 1033.6C629.9 1033.6 632.7 1033.0 635.5 1032.1C638.3 1031.2 641.0 1029.9 643.6 1028.4C646.2 1026.8 648.7 1024.9 651.0 1022.9C653.3 1020.9 655.5 1018.7 657.5 1016.4C659.5 1014.1 661.4 1011.7 663.0 1009.2C664.7 1006.7 666.3 1004.2 667.7 1001.6C669.1 999.0 670.4 996.4 671.7 993.7C672.9 991.0 674.1 988.2 675.2 985.5C676.3 982.7 677.4 979.9 678.4 977.1C679.5 974.4 680.5 971.6 681.5 968.7C682.5 965.9 683.4 963.1 684.4 960.3C685.3 957.4 686.3 954.6 687.2 951.7C688.1 948.9 689.0 946.0 689.9 943.2C690.8 940.3 691.7 937.5 692.6 934.6C693.5 931.8 694.4 928.9 695.4 926.0C696.3 923.2 697.2 920.3 698.1 917.5C699.0 914.6 700.0 911.8 701.0 908.9C701.9 906.1 702.9 903.3 703.9 900.5C704.9 897.6 706.0 894.8 707.0 892.0C708.1 889.2 709.2 886.4 710.3 883.7C711.4 880.9 712.5 878.1 713.7 875.3C714.8 872.6 716.0 869.8 717.2 867.0C718.3 864.3 719.5 861.6 720.8 858.8C722.0 856.1 723.2 853.3 724.4 850.6C725.7 847.9 726.9 845.2 728.2 842.4C729.4 839.7 730.7 837.0 732.0 834.3C733.3 831.6 734.6 828.9 735.8 826.2C737.1 823.5 738.4 820.8 739.6 818.0C740.9 815.3 742.1 812.6 743.4 809.9C744.6 807.2 745.8 804.4 747.0 801.7C748.1 798.9 749.3 796.2 750.3 793.4C751.4 790.6 752.5 787.8 753.5 785.0C754.5 782.2 755.5 779.4 756.4 776.5C757.3 773.7 758.1 770.8 758.9 767.9C759.7 765.1 760.5 762.2 761.2 759.3C761.9 756.3 762.6 753.4 763.3 750.5C763.9 747.6 764.5 744.6 765.1 741.7C765.7 738.7 766.3 735.8 766.8 732.8C767.3 729.8 767.9 726.9 768.4 723.9C768.9 721.0 769.4 718.0 769.9 715.0C770.3 712.1 770.8 709.1 771.3 706.2C771.7 703.2 772.1 700.2 772.6 697.3C773.0 694.3 773.4 691.4 773.8 688.4C774.2 685.4 774.6 682.5 775.0 679.5C775.4 676.6 775.8 673.6 776.2 670.6C776.5 667.7 776.9 664.7 777.2 661.7C777.6 658.8 777.9 655.8 778.3 652.9C778.6 649.9 778.9 646.9 779.3 644.0C779.6 641.0 779.9 638.1 780.2 635.1C780.5 632.1 780.8 629.2 781.1 626.2C781.4 623.2 781.7 620.3 782.0 617.3C782.3 614.3 782.6 611.4 782.9 608.4C783.2 605.4 783.5 602.5 783.8 599.5C784.1 596.5 784.3 593.6 784.6 590.6C784.9 587.6 785.2 584.7 785.5 581.7C785.8 578.7 786.0 575.8 786.3 572.8C786.6 569.8 786.9 566.9 787.2 563.9C787.5 560.9 787.7 557.9 788.0 555.0C788.3 552.0 788.6 549.0 788.9 546.0C789.2 543.1 789.5 540.1 789.8 537.1C790.1 534.1 790.4 531.2 790.7 528.2C791.0 525.2 791.4 522.2 791.7 519.2C792.0 516.3 792.3 513.3 792.7 510.3C793.0 507.3 793.4 504.3 793.7 501.3C794.1 498.4 794.4 495.4 794.8 492.4C795.2 489.4 795.6 486.4 795.9 483.4C796.3 480.4 796.7 477.4 797.1 474.4C797.6 471.4 798.0 468.5 798.4 465.5C798.8 462.5 799.3 459.5 799.7 456.5C800.2 453.5 800.7 450.5 801.1 447.5C801.6 444.5 802.1 441.5 802.6 438.5C803.1 435.5 803.7 432.5 804.2 429.5C804.8 426.5 805.3 423.5 806.0 420.5C806.6 417.6 807.4 414.6 808.2 411.8C809.0 408.9 810.0 406.1 811.0 403.4C812.1 400.7 813.4 398.0 814.8 395.5C816.2 393.0 817.7 390.6 819.5 388.3C821.3 386.0 823.4 385.0 825.2 387.1C827.0 389.2 828.5 391.7 829.9 394.2C831.3 396.7 832.4 399.3 833.4 402.0C834.4 404.8 835.2 407.6 836.0 410.5C836.7 413.4 837.3 416.4 837.8 419.4C838.3 422.4 838.8 425.4 839.2 428.5C839.6 431.5 840.0 434.6 840.4 437.7C840.8 440.7 841.1 443.8 841.5 446.8C841.9 449.9 842.3 452.9 842.7 455.9C843.0 458.9 843.4 462.0 843.8 465.0C844.1 468.0 844.5 471.0 844.9 474.0C845.2 477.0 845.6 480.0 845.9 483.0C846.3 486.0 846.6 488.9 847.0 491.9C847.3 494.9 847.7 497.9 848.0 500.9C848.3 503.8 848.7 506.8 849.0 509.8C849.3 512.7 849.7 515.7 850.0 518.7C850.3 521.6 850.6 524.6 850.9 527.5C851.3 530.5 851.6 533.5 851.9 536.4C852.2 539.4 852.5 542.3 852.8 545.3C853.1 548.2 853.4 551.2 853.7 554.1C854.0 557.1 854.3 560.0 854.6 563.0C854.9 566.0 855.2 568.9 855.5 571.9C855.7 574.8 856.0 577.8 856.3 580.8C856.6 583.7 856.9 586.7 857.1 589.6C857.4 592.6 857.7 595.6 858.0 598.5C858.2 601.5 858.5 604.5 858.8 607.5C859.0 610.4 859.3 613.4 859.5 616.4C859.8 619.3 860.1 622.3 860.3 625.3C860.6 628.3 860.8 631.3 861.1 634.2C861.3 637.2 861.6 640.2 861.8 643.2C862.1 646.1 862.3 649.1 862.6 652.1C862.8 655.1 863.1 658.1 863.3 661.1C863.6 664.0 863.8 667.0 864.1 670.0C864.3 673.0 864.6 676.0 864.8 679.0C865.1 682.0 865.3 684.9 865.6 687.9C865.8 690.9 866.1 693.9 866.3 696.9C866.5 699.9 866.8 702.9 867.0 705.9C867.3 708.9 867.5 711.8 867.8 714.8C868.0 717.8 868.3 720.8 868.5 723.8C868.8 726.8 869.0 729.8 869.3 732.8C869.5 735.8 869.8 738.8 870.0 741.7C870.3 744.7 870.5 747.7 870.8 750.7C871.0 753.7 871.3 756.7 871.6 759.7C871.8 762.7 872.1 765.7 872.3 768.7C872.6 771.6 872.9 774.6 873.1 777.6C873.4 780.6 873.7 783.6 873.9 786.6C874.2 789.6 874.5 792.6 874.8 795.6C875.0 798.5 875.3 801.5 875.6 804.5C875.9 807.5 876.2 810.5 876.4 813.5C876.7 816.5 877.0 819.4 877.3 822.4C877.6 825.4 877.9 828.4 878.2 831.4C878.5 834.3 878.8 837.3 879.1 840.3C879.4 843.3 879.7 846.3 880.0 849.2C880.4 852.2 880.7 855.2 881.0 858.2C881.3 861.1 881.6 864.1 882.0 867.1C882.3 870.1 882.6 873.0 883.0 876.0C883.3 879.0 883.6 882.0 884.0 884.9C884.3 887.9 884.6 890.9 885.0 893.8C885.3 896.8 885.7 899.8 886.0 902.8C886.4 905.7 886.7 908.7 887.1 911.7C887.4 914.6 887.8 917.6 888.2 920.6C888.5 923.5 888.9 926.5 889.3 929.5C889.6 932.4 890.0 935.4 890.4 938.4C890.7 941.3 891.1 944.3 891.5 947.3C891.9 950.2 892.2 953.2 892.6 956.1C893.0 959.1 893.4 962.1 893.8 965.0C894.2 968.0 894.6 971.0 895.0 973.9C895.3 976.9 895.7 979.8 896.1 982.8C896.5 985.8 896.9 988.7 897.3 991.7C897.7 994.6 898.1 997.6 898.6 1000.6C899.0 1003.5 899.4 1006.5 899.8 1009.4C900.2 1012.4 900.7 1015.4 901.1 1018.3C901.5 1021.3 902.0 1024.2 902.4 1027.2C902.9 1030.1 903.3 1033.1 903.8 1036.0C904.3 1039.0 904.8 1041.9 905.3 1044.9C905.8 1047.8 906.3 1050.8 906.8 1053.7C907.3 1056.7 907.8 1059.6 908.4 1062.6C908.9 1065.5 909.5 1068.5 910.1 1071.4C910.6 1074.4 911.2 1077.3 911.8 1080.3C912.5 1083.2 913.1 1086.1 913.7 1089.1C914.4 1092.0 915.0 1094.9 915.7 1097.9C916.4 1100.8 917.1 1103.7 917.8 1106.7C918.5 1109.6 919.3 1112.5 920.0 1115.5C920.8 1118.4 921.6 1121.3 922.4 1124.2C923.2 1127.1 924.1 1130.0 925.0 1132.9C925.9 1135.8 926.9 1138.6 927.9 1141.5C928.9 1144.3 929.9 1147.1 931.1 1149.8C932.2 1152.6 933.4 1155.3 934.7 1158.0C935.9 1160.6 937.3 1163.3 938.7 1165.8C940.2 1168.4 941.7 1170.9 943.3 1173.4C944.9 1175.8 946.7 1178.2 948.5 1180.5C950.3 1182.8 952.3 1185.0 954.3 1187.2C956.4 1189.4 958.6 1191.5 960.8 1193.5C963.0 1195.5 965.4 1197.5 967.7 1199.4C970.1 1201.3 972.5 1203.2 975.0 1205.0C977.4 1206.9 979.9 1208.7 982.4 1210.5C984.8 1212.3 987.3 1214.0 989.7 1215.8C992.2 1217.5 994.6 1219.3 997.1 1220.9C999.5 1222.6 1002.0 1224.3 1004.5 1225.8C1007.0 1227.4 1009.6 1228.9 1012.1 1230.3C1014.7 1231.7 1017.3 1233.1 1020.0 1234.4C1022.6 1235.7 1025.3 1237.0 1028.1 1238.2C1030.8 1239.4 1033.5 1240.5 1036.3 1241.6C1039.1 1242.7 1041.9 1243.7 1044.8 1244.7C1047.6 1245.6 1050.5 1246.6 1053.4 1247.5C1056.3 1248.3 1059.2 1249.2 1062.2 1249.9C1065.1 1250.7 1068.1 1251.4 1071.1 1252.0C1074.1 1252.6 1077.1 1253.1 1080.0 1253.4C1083.0 1253.8 1086.0 1254.1 1089.0 1254.2C1092.0 1254.4 1094.9 1254.4 1097.9 1254.2C1100.8 1254.0 1103.7 1253.7 1106.6 1253.3C1109.5 1252.8 1112.4 1252.2 1115.3 1251.5C1118.2 1250.8 1121.0 1250.0 1123.9 1249.1C1126.7 1248.2 1129.5 1247.2 1132.4 1246.3C1135.2 1245.3 1138.0 1244.2 1140.9 1243.2C1143.7 1242.2 1146.6 1241.2 1149.4 1240.2C1152.2 1239.2 1155.1 1238.2 1158.0 1237.3C1160.8 1236.5 1163.7 1235.6 1166.6 1234.9C1169.5 1234.2 1172.4 1233.6 1175.3 1233.2C1178.3 1232.7 1181.2 1232.4 1184.2 1232.2C1187.2 1232.0 1190.2 1231.9 1193.2 1231.9C1196.2 1231.9 1199.2 1232.0 1202.3 1232.1C1205.3 1232.2 1208.3 1232.4 1211.3 1232.6C1214.3 1232.8 1217.3 1233.0 1220.3 1233.1C1223.3 1233.3 1226.3 1233.5 1229.3 1233.6C1232.2 1233.7 1235.2 1233.8 1238.1 1233.9C1241.0 1233.9 1243.9 1234.1 1246.8 1234.2C1249.8 1234.4 1252.7 1234.7 1255.6 1235.0C1258.5 1235.4 1261.4 1235.8 1264.4 1236.2C1267.3 1236.5 1270.3 1236.9 1273.2 1237.1C1276.2 1237.3 1279.1 1237.3 1282.1 1237.2C1285.1 1237.1 1288.1 1236.9 1291.1 1236.6C1294.1 1236.3 1297.1 1236.0 1300.1 1235.6C1303.1 1235.2 1306.1 1234.7 1309.1 1234.3C1312.1 1233.9 1315.1 1233.5 1318.1 1233.1C1321.1 1232.7 1324.0 1232.4 1327.0 1232.2C1330.0 1232.0 1332.9 1231.9 1335.9 1231.9C1338.8 1231.8 1341.8 1231.9 1344.7 1232.1C1347.6 1232.2 1350.5 1232.5 1353.4 1232.9C1356.3 1233.3 1359.2 1233.8 1362.1 1234.4C1365.0 1235.0 1367.9 1235.7 1370.8 1236.5C1373.7 1237.3 1376.5 1238.3 1379.4 1239.3C1382.3 1240.3 1385.1 1241.4 1388.0 1242.6C1390.9 1243.7 1393.7 1244.9 1396.6 1245.9C1399.5 1247.0 1402.4 1248.0 1405.3 1248.9C1408.2 1249.8 1411.1 1250.5 1414.0 1251.0C1417.0 1251.5 1419.9 1251.8 1422.9 1252.0C1425.9 1252.1 1428.8 1252.0 1431.8 1251.7C1434.7 1251.5 1437.7 1251.0 1440.6 1250.4C1443.5 1249.8 1446.4 1249.0 1449.2 1248.1C1452.0 1247.1 1454.8 1246.0 1457.5 1244.7C1460.2 1243.4 1462.8 1242.0 1465.4 1240.5C1467.9 1238.9 1470.4 1237.2 1472.8 1235.4C1475.1 1233.6 1477.4 1231.6 1479.6 1229.5C1481.7 1227.5 1483.7 1225.3 1485.6 1223.0C1487.5 1220.7 1489.3 1218.3 1490.9 1215.8C1492.4 1213.3 1493.9 1210.7 1495.2 1208.0C1496.5 1205.3 1497.6 1202.6 1498.7 1199.7C1499.7 1196.9 1500.7 1194.1 1501.6 1191.2C1502.5 1188.3 1503.3 1185.3 1504.0 1182.4C1504.8 1179.4 1505.5 1176.4 1506.2 1173.4C1507.0 1170.5 1507.7 1167.5 1508.4 1164.5C1509.1 1161.6 1509.9 1158.7 1510.7 1155.8C1511.5 1152.9 1512.3 1150.0 1513.1 1147.2C1513.9 1144.3 1514.8 1141.5 1515.6 1138.6C1516.5 1135.8 1517.3 1132.9 1518.1 1130.1C1518.9 1127.3 1519.7 1124.4 1520.5 1121.6C1521.2 1118.7 1521.9 1115.8 1522.6 1112.9C1523.3 1110.0 1523.9 1107.1 1524.6 1104.2C1525.2 1101.3 1525.8 1098.3 1526.4 1095.4C1527.0 1092.4 1527.5 1089.5 1528.1 1086.5C1528.7 1083.6 1529.2 1080.6 1529.8 1077.7C1530.3 1074.7 1530.9 1071.7 1531.4 1068.8C1532.0 1065.8 1532.6 1062.8 1533.1 1059.9C1533.7 1056.9 1534.3 1054.0 1534.9 1051.1C1535.5 1048.1 1536.1 1045.2 1536.7 1042.2C1537.3 1039.3 1538.0 1036.4 1538.6 1033.4C1539.2 1030.5 1539.8 1027.6 1540.5 1024.7C1541.1 1021.8 1541.7 1018.9 1542.4 1015.9C1543.0 1013.0 1543.6 1010.1 1544.2 1007.2C1544.9 1004.3 1545.5 1001.4 1546.1 998.5C1546.7 995.6 1547.4 992.7 1548.1 989.9C1548.7 987.0 1549.5 984.1 1550.3 981.2C1551.1 978.3 1552.0 975.4 1553.1 972.6C1554.1 969.7 1555.3 966.8 1556.6 964.0C1558.0 961.1 1559.5 958.1 1561.2 955.6C1563.0 953.1 1564.9 951.4 1567.1 951.5C1569.4 951.7 1571.8 953.8 1574.0 956.3C1576.1 958.9 1577.8 961.9 1579.0 964.7C1580.1 967.5 1581.0 970.3 1581.9 973.1C1582.8 975.9 1583.6 978.7 1584.4 981.6C1585.2 984.4 1586.0 987.3 1586.7 990.2C1587.4 993.1 1588.1 996.0 1588.8 998.9C1589.5 1001.8 1590.1 1004.8 1590.8 1007.7C1591.4 1010.6 1592.0 1013.6 1592.7 1016.5C1593.3 1019.5 1593.9 1022.4 1594.5 1025.3C1595.1 1028.3 1595.7 1031.2 1596.4 1034.1C1597.0 1037.1 1597.6 1040.0 1598.2 1042.9C1598.8 1045.9 1599.4 1048.8 1600.0 1051.7C1600.6 1054.6 1601.2 1057.6 1601.8 1060.5C1602.4 1063.4 1603.0 1066.3 1603.6 1069.3C1604.2 1072.2 1604.8 1075.1 1605.4 1078.1C1606.0 1081.0 1606.6 1083.9 1607.2 1086.8C1607.8 1089.8 1608.4 1092.7 1608.9 1095.6C1609.5 1098.6 1610.1 1101.5 1610.7 1104.4C1611.3 1107.4 1611.8 1110.3 1612.4 1113.2C1613.0 1116.2 1613.6 1119.1 1614.1 1122.1C1614.7 1125.0 1615.3 1127.9 1615.8 1130.9C1616.4 1133.8 1617.0 1136.8 1617.5 1139.7C1618.1 1142.7 1618.7 1145.6 1619.3 1148.6C1619.9 1151.5 1620.5 1154.5 1621.1 1157.4C1621.7 1160.3 1622.4 1163.3 1623.0 1166.2C1623.7 1169.1 1624.4 1172.0 1625.1 1175.0C1625.8 1177.9 1626.5 1180.8 1627.2 1183.7C1628.0 1186.6 1628.8 1189.5 1629.6 1192.3C1630.4 1195.2 1631.2 1198.1 1632.1 1200.9C1633.0 1203.8 1633.9 1206.6 1634.9 1209.4C1635.8 1212.3 1636.8 1215.1 1637.9 1217.9C1639.0 1220.7 1640.1 1223.4 1641.2 1226.2C1642.4 1229.0 1643.6 1231.7 1644.8 1234.4C1646.1 1237.1 1647.4 1239.9 1648.7 1242.5C1650.1 1245.2 1651.6 1247.9 1653.1 1250.5C1654.5 1253.1 1656.1 1255.7 1657.8 1258.2C1659.4 1260.8 1661.1 1263.2 1662.9 1265.6C1664.7 1268.0 1666.6 1270.4 1668.5 1272.6C1670.5 1274.8 1672.6 1276.9 1674.7 1278.9C1676.9 1281.0 1679.1 1282.9 1681.5 1284.6C1683.8 1286.4 1686.3 1288.0 1688.9 1289.5C1691.4 1291.0 1694.1 1292.3 1696.9 1293.5C1699.6 1294.7 1702.5 1295.8 1705.3 1296.8C1708.2 1297.7 1711.1 1298.6 1714.1 1299.4C1717.0 1300.2 1720.0 1300.9 1723.0 1301.6C1725.9 1302.2 1728.9 1302.8 1731.8 1303.4C1734.8 1303.9 1737.7 1304.4 1740.6 1304.9C1743.6 1305.4 1746.5 1305.8 1749.5 1306.2C1752.4 1306.7 1755.3 1307.1 1758.3 1307.5C1761.2 1307.8 1764.2 1308.2 1767.1 1308.6C1770.1 1309.0 1773.0 1309.3 1776.0 1309.7C1778.9 1310.1 1781.9 1310.5 1784.9 1310.8C1787.8 1311.2 1790.8 1311.5 1793.8 1311.9C1796.7 1312.3 1799.7 1312.6 1802.7 1313.0C1805.7 1313.3 1808.6 1313.7 1811.6 1314.0C1814.6 1314.4 1817.6 1314.7 1820.6 1315.0C1823.6 1315.4 1826.5 1315.7 1829.5 1316.0C1832.5 1316.4 1835.5 1316.7 1838.5 1317.0C1841.5 1317.3 1844.5 1317.7 1847.4 1318.0C1850.4 1318.3 1853.4 1318.6 1856.4 1318.9C1859.4 1319.2 1862.4 1319.5 1865.4 1319.8C1868.3 1320.1 1871.3 1320.4 1874.3 1320.7C1877.3 1321.0 1880.3 1321.3 1883.2 1321.6C1886.2 1321.9 1889.2 1322.1 1892.2 1322.4C1895.1 1322.7 1898.1 1323.0 1901.1 1323.2C1904.0 1323.5 1907.0 1323.8 1909.9 1324.0" stroke="#0070C0"/>
<path d="M205.8 638.6C206.4 641.5 206.9 644.5 207.5 647.4C208.1 650.3 208.6 653.2 209.2 656.2C209.7 659.1 210.3 662.0 210.8 665.0C211.3 667.9 211.9 670.8 212.4 673.8C212.9 676.7 213.5 679.7 214.0 682.6C214.5 685.5 215.0 688.5 215.6 691.4C216.1 694.4 216.6 697.3 217.1 700.3C217.6 703.2 218.1 706.2 218.6 709.1C219.1 712.1 219.6 715.0 220.1 718.0C220.6 721.0 221.1 723.9 221.6 726.9C222.1 729.8 222.6 732.8 223.1 735.8C223.5 738.7 224.0 741.7 224.5 744.6C225.0 747.6 225.5 750.6 226.0 753.5C226.5 756.5 227.0 759.5 227.4 762.4C227.9 765.4 228.4 768.3 228.9 771.3C229.4 774.3 229.9 777.2 230.4 780.2C230.8 783.2 231.3 786.1 231.8 789.1C232.3 792.1 232.8 795.0 233.3 798.0C233.8 801.0 234.3 803.9 234.8 806.9C235.3 809.8 235.8 812.8 236.3 815.8C236.8 818.7 237.3 821.7 237.8 824.6C238.3 827.6 238.8 830.6 239.3 833.5C239.9 836.5 240.4 839.4 240.9 842.4C241.4 845.3 241.9 848.3 242.5 851.2C243.0 854.2 243.5 857.1 244.1 860.1C244.6 863.0 245.2 866.0 245.7 868.9C246.3 871.9 246.8 874.8 247.4 877.7C248.0 880.7 248.5 883.6 249.1 886.5C249.7 889.5 250.3 892.4 250.9 895.3C251.4 898.3 252.0 901.2 252.6 904.1C253.3 907.0 253.9 910.0 254.5 912.9C255.1 915.8 255.7 918.7 256.4 921.6C257.0 924.5 257.6 927.4 258.3 930.3C258.9 933.2 259.6 936.1 260.3 939.0C260.9 941.9 261.6 944.8 262.3 947.7C263.0 950.6 263.7 953.5 264.4 956.4C265.1 959.3 265.8 962.1 266.6 965.0C267.3 967.9 268.1 970.8 268.9 973.6C269.7 976.5 270.6 979.4 271.5 982.2C272.5 985.1 273.5 987.9 274.6 990.8C275.7 993.6 276.9 996.5 278.2 999.3C279.5 1002.1 280.9 1005.0 282.5 1007.8C284.1 1010.6 285.8 1013.3 287.6 1015.7C289.5 1018.2 291.5 1020.4 293.7 1022.3C295.9 1024.1 298.2 1025.5 300.7 1026.4C303.2 1027.3 305.9 1027.6 308.8 1027.3C311.6 1027.0 314.5 1026.2 317.4 1024.9C320.3 1023.7 323.1 1022.1 325.6 1020.3C328.2 1018.4 330.4 1016.4 332.5 1014.3C334.6 1012.1 336.4 1009.9 338.2 1007.5C340.1 1005.2 341.8 1002.9 343.7 1000.5C345.5 998.2 347.4 995.8 349.6 993.6C351.7 991.4 354.1 989.2 356.5 987.4C359.0 985.5 361.6 984.0 364.2 982.9C366.9 981.7 369.7 981.1 372.4 981.1C375.2 981.0 377.9 981.6 380.7 982.6C383.5 983.5 386.3 984.9 389.2 986.3C392.0 987.7 394.8 989.2 397.6 990.6C400.5 992.0 403.3 993.3 406.1 994.1C409.0 994.9 411.8 995.3 414.6 995.3C417.5 995.3 420.3 994.8 423.1 994.1C425.8 993.3 428.6 992.3 431.3 991.0C434.0 989.6 436.7 988.1 439.3 986.3C441.9 984.6 444.4 982.7 446.9 980.6C449.3 978.6 451.7 976.5 454.0 974.4C456.2 972.2 458.4 970.0 460.6 967.9C462.7 965.8 464.8 963.8 467.1 962.0C469.3 960.2 471.6 958.6 474.0 957.3C476.5 956.0 479.1 955.0 482.0 954.5C484.8 953.9 487.9 953.7 491.0 953.7C494.1 953.7 497.2 954.0 500.3 954.2C503.4 954.5 506.5 954.7 509.4 954.7C512.4 954.6 515.3 954.4 518.1 953.7C520.9 952.9 523.6 951.8 526.1 950.3C528.6 948.9 531.1 947.1 533.3 945.1C535.6 943.1 537.7 940.9 539.7 938.5C541.7 936.1 543.5 933.7 545.2 931.1C547.0 928.6 548.6 926.0 550.3 923.5C552.0 921.0 553.7 918.6 555.6 916.3C557.5 914.1 559.6 912.0 562.0 910.1C564.4 908.3 567.1 906.5 569.8 905.8C572.5 905.2 574.9 906.3 576.7 908.8C578.5 911.3 580.1 914.1 581.5 916.9C582.8 919.6 584.0 922.4 585.1 925.2C586.2 928.0 587.2 930.8 588.0 933.6C588.9 936.5 589.7 939.4 590.5 942.2C591.3 945.1 592.1 948.0 592.9 950.9C593.7 953.8 594.4 956.7 595.2 959.6C596.0 962.6 596.7 965.5 597.5 968.4C598.2 971.3 599.0 974.2 599.7 977.1C600.5 980.0 601.2 983.0 602.0 985.9C602.7 988.8 603.4 991.6 604.2 994.5C604.9 997.4 605.6 1000.3 606.4 1003.1C607.1 1006.0 607.9 1008.8 608.6 1011.7C609.3 1014.5 610.1 1017.4 610.9 1020.2C611.6 1023.1 612.4 1026.0 613.2 1028.8C614.0 1031.7 614.8 1034.6 615.6 1037.5C616.4 1040.4 617.3 1043.3 618.2 1046.3C619.0 1049.3 619.9 1052.2 620.9 1055.2C621.8 1058.2 622.9 1061.1 624.1 1063.9C625.3 1066.7 626.6 1069.4 628.1 1071.9C629.7 1074.4 631.4 1076.7 633.5 1078.7C635.5 1080.7 637.8 1082.4 640.4 1083.8C642.9 1085.2 645.7 1086.4 648.6 1087.2C651.5 1088.1 654.6 1088.7 657.7 1089.0C660.7 1089.3 663.8 1089.4 666.9 1089.2C670.0 1089.0 673.0 1088.6 675.9 1087.9C678.9 1087.2 681.7 1086.3 684.5 1085.2C687.2 1084.0 689.8 1082.7 692.3 1081.1C694.8 1079.6 697.1 1077.8 699.3 1075.8C701.4 1073.9 703.4 1071.8 705.3 1069.5C707.1 1067.2 708.8 1064.8 710.4 1062.2C712.0 1059.7 713.4 1057.0 714.8 1054.3C716.2 1051.6 717.5 1048.8 718.7 1046.0C719.9 1043.2 721.0 1040.3 722.1 1037.5C723.1 1034.6 724.1 1031.7 725.1 1028.9C726.1 1026.0 727.0 1023.1 727.9 1020.3C728.8 1017.4 729.6 1014.5 730.4 1011.6C731.2 1008.7 732.0 1005.8 732.7 1003.0C733.5 1000.1 734.2 997.2 734.9 994.3C735.6 991.4 736.3 988.5 736.9 985.6C737.6 982.7 738.3 979.8 738.9 976.9C739.6 974.0 740.2 971.1 740.9 968.2C741.5 965.3 742.2 962.4 742.8 959.5C743.5 956.6 744.2 953.7 744.9 950.8C745.6 947.9 746.3 945.0 747.0 942.1C747.8 939.2 748.5 936.3 749.3 933.4C750.1 930.5 750.9 927.6 751.8 924.7C752.7 921.9 753.6 919.0 754.6 916.1C755.5 913.3 756.5 910.4 757.6 907.5C758.6 904.7 759.8 901.9 761.1 899.2C762.4 896.5 763.9 893.9 765.6 891.5C767.4 889.2 769.4 887.0 771.8 885.4C774.2 883.8 777.1 882.7 780.0 881.8C783.0 880.9 786.0 880.1 788.8 879.0C791.6 877.9 794.0 876.4 796.0 874.3C798.0 872.2 799.7 869.6 801.1 866.9C802.5 864.2 803.8 861.3 805.0 858.5C806.2 855.6 807.3 852.8 808.3 849.9C809.3 847.1 810.3 844.2 811.2 841.3C812.1 838.5 812.9 835.6 813.7 832.7C814.5 829.8 815.3 826.9 816.0 824.0C816.7 821.1 817.4 818.2 818.1 815.3C818.8 812.4 819.4 809.5 820.0 806.6C820.6 803.7 821.2 800.7 821.8 797.8C822.4 794.9 823.0 791.9 823.5 789.0C824.0 786.1 824.5 783.1 825.1 780.2C825.6 777.2 826.0 774.3 826.5 771.3C827.0 768.4 827.4 765.4 827.9 762.4C828.3 759.5 828.7 756.5 829.1 753.6C829.6 750.6 830.0 747.6 830.4 744.7C830.7 741.7 831.1 738.7 831.5 735.7C831.9 732.8 832.2 729.8 832.6 726.8C833.0 723.8 833.3 720.9 833.7 717.9C834.0 714.9 834.3 711.9 834.7 709.0C835.0 706.0 835.4 703.0 835.7 700.0C836.0 697.1 836.3 694.1 836.6 691.1C837.0 688.1 837.3 685.1 837.6 682.2C837.9 679.2 838.2 676.2 838.5 673.2C838.8 670.2 839.1 667.3 839.3 664.3C839.6 661.3 839.9 658.3 840.2 655.3C840.5 652.3 840.7 649.4 841.0 646.4C841.3 643.4 841.5 640.4 841.8 637.4C842.1 634.4 842.3 631.4 842.6 628.5C842.8 625.5 843.1 622.5 843.3 619.5C843.5 616.5 843.8 613.5 844.0 610.5C844.3 607.6 844.5 604.6 844.7 601.6C844.9 598.6 845.2 595.6 845.4 592.6C845.6 589.6 845.8 586.6 846.0 583.7C846.3 580.7 846.5 577.7 846.7 574.7C846.9 571.7 847.1 568.7 847.3 565.7C847.5 562.7 847.7 559.7 847.9 556.8C848.1 553.8 848.3 550.8 848.5 547.8C848.6 544.8 848.8 541.8 849.0 538.8C849.2 535.8 849.4 532.8 849.6 529.8C849.7 526.9 849.9 523.9 850.1 520.9C850.3 517.9 850.4 514.9 850.6 511.9C850.8 508.9 850.9 505.9 851.1 502.9C851.3 499.9 851.4 496.9 851.6 494.0C851.8 491.0 851.9 488.0 852.1 485.0C852.2 482.0 852.4 479.0 852.5 476.0C852.7 473.0 852.9 470.0 853.0 467.0C853.2 464.0 853.3 461.0 853.5 458.1C853.6 455.1 853.8 452.1 853.9 449.1C854.0 446.1 854.2 443.1 854.3 440.1C854.5 437.1 854.6 434.1 854.8 431.1C854.9 428.2 855.1 425.2 855.2 422.2C855.3 419.2 855.5 416.2 855.6 413.2C855.8 410.2 855.9 407.2 856.0 404.2C856.2 401.2 856.3 398.3 856.5 395.3C856.6 392.3 856.7 389.3 856.9 386.3C857.0 383.3 857.2 380.3 857.3 377.3C857.4 374.3 857.6 371.4 857.7 368.4C857.8 365.4 858.0 362.4 858.1 359.4C858.3 356.4 858.4 353.4 858.5 350.5C858.7 347.5 858.8 344.5 859.0 341.5C859.1 338.5 859.3 335.5 859.4 332.5C859.6 329.5 859.8 326.6 859.9 323.6C860.1 320.6 860.3 317.6 860.4 314.6C860.6 311.6 860.8 308.7 861.0 305.7C861.2 302.7 861.4 299.7 861.6 296.7C861.8 293.7 862.1 290.7 862.3 287.8C862.5 284.8 862.8 281.8 863.0 278.8C863.3 275.8 863.6 272.8 863.8 269.8C864.1 266.8 864.4 263.9 864.7 260.9C865.0 257.9 865.4 254.9 865.7 251.9C866.0 248.9 866.4 245.9 866.8 242.9C867.2 239.9 867.5 237.0 868.0 234.0C868.4 231.0 868.8 228.0 869.2 225.0C869.7 222.0 870.2 219.0 870.7 216.0C871.1 213.0 871.7 210.0 872.2 207.0C872.7 204.0 873.3 201.0 873.9 198.0C874.4 195.1 875.0 192.0 875.7 189.1C876.3 186.1 877.0 183.4 878.7 183.6C880.3 183.8 882.8 186.7 884.5 189.8C886.2 192.8 887.1 195.8 887.6 198.9C888.0 202.0 888.1 205.1 888.0 208.1C888.0 211.2 888.0 214.3 888.1 217.3C888.2 220.3 888.3 223.3 888.5 226.3C888.7 229.3 888.9 232.3 889.2 235.3C889.5 238.2 889.8 241.2 890.1 244.1C890.4 247.1 890.7 250.1 891.0 253.0C891.3 256.0 891.6 258.9 891.9 261.9C892.2 264.8 892.5 267.8 892.7 270.7C893.0 273.7 893.2 276.7 893.5 279.7C893.7 282.6 893.9 285.6 894.1 288.6C894.3 291.6 894.5 294.6 894.7 297.5C894.9 300.5 895.1 303.5 895.2 306.5C895.4 309.5 895.6 312.5 895.7 315.5C895.9 318.5 896.0 321.5 896.2 324.5C896.3 327.5 896.5 330.5 896.6 333.5C896.7 336.5 896.9 339.5 897.0 342.5C897.2 345.5 897.3 348.5 897.5 351.5C897.6 354.5 897.8 357.5 897.9 360.5C898.1 363.5 898.2 366.5 898.4 369.5C898.6 372.5 898.8 375.5 898.9 378.5C899.1 381.5 899.3 384.5 899.5 387.5C899.7 390.4 899.9 393.4 900.1 396.4C900.3 399.4 900.5 402.4 900.7 405.4C900.9 408.4 901.1 411.4 901.3 414.4C901.5 417.4 901.7 420.3 901.9 423.3C902.1 426.3 902.3 429.3 902.5 432.3C902.7 435.3 903.0 438.3 903.2 441.3C903.4 444.2 903.6 447.2 903.8 450.2C904.0 453.2 904.2 456.2 904.4 459.2C904.6 462.2 904.8 465.2 905.0 468.1C905.2 471.1 905.4 474.1 905.6 477.1C905.8 480.1 906.0 483.1 906.2 486.1C906.4 489.0 906.6 492.0 906.8 495.0C907.0 498.0 907.2 501.0 907.4 504.0C907.5 507.0 907.7 510.0 907.9 512.9C908.1 515.9 908.3 518.9 908.4 521.9C908.6 524.9 908.8 527.9 909.0 530.9C909.1 533.9 909.3 536.9 909.5 539.8C909.7 542.8 909.8 545.8 910.0 548.8C910.2 551.8 910.4 554.8 910.5 557.8C910.7 560.8 910.9 563.8 911.0 566.7C911.2 569.7 911.4 572.7 911.5 575.7C911.7 578.7 911.9 581.7 912.0 584.7C912.2 587.7 912.4 590.7 912.5 593.6C912.7 596.6 912.8 599.6 913.0 602.6C913.2 605.6 913.3 608.6 913.5 611.6C913.7 614.6 913.8 617.6 914.0 620.6C914.2 623.5 914.3 626.5 914.5 629.5C914.7 632.5 914.8 635.5 915.0 638.5C915.2 641.5 915.3 644.5 915.5 647.5C915.7 650.5 915.8 653.4 916.0 656.4C916.2 659.4 916.4 662.4 916.5 665.4C916.7 668.4 916.9 671.4 917.1 674.4C917.2 677.4 917.4 680.4 917.6 683.3C917.8 686.3 917.9 689.3 918.1 692.3C918.3 695.3 918.5 698.3 918.7 701.3C918.9 704.3 919.1 707.3 919.2 710.3C919.4 713.2 919.6 716.2 919.8 719.2C920.0 722.2 920.2 725.2 920.4 728.2C920.6 731.2 920.8 734.2 921.0 737.2C921.2 740.2 921.4 743.1 921.6 746.1C921.8 749.1 922.0 752.1 922.2 755.1C922.5 758.1 922.7 761.1 922.9 764.1C923.1 767.1 923.3 770.0 923.5 773.0C923.8 776.0 924.0 779.0 924.2 782.0C924.4 785.0 924.7 788.0 924.9 791.0C925.1 794.0 925.4 796.9 925.6 799.9C925.8 802.9 926.1 805.9 926.3 808.9C926.6 811.9 926.8 814.9 927.0 817.9C927.3 820.8 927.5 823.8 927.8 826.8C928.0 829.8 928.3 832.8 928.6 835.8C928.8 838.8 929.1 841.7 929.3 844.7C929.6 847.7 929.9 850.7 930.1 853.7C930.4 856.7 930.7 859.6 930.9 862.6C931.2 865.6 931.5 868.6 931.8 871.6C932.1 874.6 932.3 877.5 932.6 880.5C932.9 883.5 933.2 886.5 933.5 889.5C933.8 892.4 934.1 895.4 934.4 898.4C934.7 901.4 935.0 904.4 935.3 907.3C935.6 910.3 935.9 913.3 936.2 916.3C936.5 919.2 936.8 922.2 937.1 925.2C937.4 928.2 937.7 931.1 938.1 934.1C938.4 937.1 938.7 940.1 939.0 943.0C939.4 946.0 939.7 949.0 940.0 952.0C940.4 954.9 940.7 957.9 941.0 960.9C941.4 963.8 941.7 966.8 942.1 969.8C942.4 972.7 942.8 975.7 943.1 978.7C943.5 981.6 943.8 984.6 944.2 987.6C944.6 990.5 944.9 993.5 945.3 996.5C945.7 999.4 946.0 1002.4 946.4 1005.4C946.8 1008.3 947.2 1011.3 947.6 1014.2C948.0 1017.2 948.4 1020.2 948.8 1023.1C949.2 1026.1 949.7 1029.0 950.1 1032.0C950.6 1035.0 951.0 1037.9 951.5 1040.9C952.0 1043.8 952.4 1046.8 952.9 1049.7C953.4 1052.7 954.0 1055.6 954.5 1058.6C955.0 1061.5 955.6 1064.5 956.1 1067.4C956.7 1070.4 957.3 1073.3 957.9 1076.3C958.5 1079.2 959.1 1082.2 959.8 1085.1C960.4 1088.1 961.1 1091.0 961.8 1093.9C962.5 1096.9 963.2 1099.8 963.9 1102.8C964.7 1105.7 965.4 1108.6 966.2 1111.6C967.0 1114.5 967.8 1117.4 968.7 1120.3C969.6 1123.2 970.6 1126.1 971.6 1128.9C972.6 1131.7 973.8 1134.5 975.0 1137.2C976.2 1139.8 977.6 1142.5 979.1 1145.0C980.5 1147.5 982.2 1149.9 984.0 1152.2C985.8 1154.5 987.7 1156.6 989.9 1158.7C992.0 1160.7 994.4 1162.6 996.9 1164.3C999.4 1166.1 1002.0 1167.7 1004.7 1169.4C1007.3 1171.1 1009.9 1172.8 1012.3 1174.6C1014.8 1176.4 1017.1 1178.4 1019.1 1180.5C1021.2 1182.6 1023.0 1184.9 1024.8 1187.3C1026.5 1189.7 1028.2 1192.1 1029.8 1194.6C1031.4 1197.1 1032.9 1199.7 1034.4 1202.2C1035.9 1204.8 1037.4 1207.4 1038.9 1210.0C1040.4 1212.6 1041.9 1215.2 1043.5 1217.8C1045.0 1220.4 1046.6 1222.9 1048.3 1225.4C1049.9 1227.9 1051.7 1230.3 1053.5 1232.7C1055.4 1235.0 1057.4 1237.3 1059.5 1239.5C1061.6 1241.7 1063.8 1243.7 1066.1 1245.7C1068.4 1247.6 1070.9 1249.4 1073.4 1251.1C1075.9 1252.8 1078.5 1254.3 1081.2 1255.6C1083.8 1256.9 1086.5 1258.1 1089.3 1259.1C1092.1 1260.0 1094.9 1260.8 1097.8 1261.4C1100.6 1262.0 1103.5 1262.4 1106.4 1262.6C1109.4 1262.9 1112.3 1262.9 1115.3 1262.9C1118.2 1262.8 1121.2 1262.6 1124.2 1262.3C1127.1 1261.9 1130.1 1261.5 1133.1 1260.9C1136.0 1260.4 1139.0 1259.7 1141.9 1258.9C1144.9 1258.2 1147.8 1257.3 1150.7 1256.4C1153.6 1255.5 1156.5 1254.5 1159.4 1253.6C1162.3 1252.6 1165.2 1251.5 1168.1 1250.5C1171.0 1249.5 1173.9 1248.5 1176.7 1247.5C1179.6 1246.5 1182.5 1245.5 1185.3 1244.6C1188.2 1243.7 1191.1 1242.8 1193.9 1242.0C1196.8 1241.2 1199.7 1240.5 1202.6 1240.0C1205.4 1239.4 1208.3 1238.9 1211.2 1238.5C1214.1 1238.2 1217.0 1238.0 1219.9 1237.9C1222.8 1237.9 1225.8 1237.9 1228.7 1238.1C1231.6 1238.2 1234.6 1238.5 1237.5 1238.8C1240.4 1239.1 1243.4 1239.5 1246.3 1240.0C1249.3 1240.4 1252.2 1240.9 1255.2 1241.4C1258.2 1241.8 1261.1 1242.3 1264.1 1242.8C1267.0 1243.3 1270.0 1243.8 1273.0 1244.2C1275.9 1244.6 1278.9 1245.0 1281.9 1245.2C1284.8 1245.5 1287.8 1245.7 1290.7 1245.8C1293.7 1246.0 1296.6 1246.0 1299.6 1245.8C1302.5 1245.7 1305.5 1245.4 1308.4 1245.0C1311.4 1244.7 1314.3 1244.2 1317.2 1243.6C1320.2 1243.0 1323.1 1242.4 1326.0 1241.7C1329.0 1241.0 1331.9 1240.3 1334.8 1239.6C1337.8 1238.8 1340.7 1238.1 1343.7 1237.3C1346.6 1236.6 1349.6 1235.9 1352.5 1235.2C1355.5 1234.6 1358.4 1234.0 1361.4 1233.5C1364.4 1232.9 1367.3 1232.5 1370.3 1232.2C1373.3 1231.8 1376.3 1231.6 1379.3 1231.6C1382.2 1231.6 1385.2 1231.7 1388.0 1232.1C1390.9 1232.4 1393.8 1233.0 1396.5 1233.9C1399.3 1234.7 1401.9 1235.9 1404.5 1237.3C1407.1 1238.7 1409.6 1240.4 1412.2 1242.1C1414.7 1243.8 1417.3 1245.5 1419.9 1247.3C1422.5 1249.1 1425.2 1250.8 1427.8 1252.5C1430.5 1254.1 1433.2 1255.7 1435.9 1257.1C1438.6 1258.5 1441.3 1259.8 1444.1 1260.8C1446.9 1261.8 1449.7 1262.5 1452.5 1263.0C1455.3 1263.5 1458.2 1263.6 1461.1 1263.5C1463.9 1263.5 1466.8 1263.1 1469.7 1262.6C1472.6 1262.1 1475.5 1261.3 1478.3 1260.4C1481.2 1259.5 1484.0 1258.4 1486.8 1257.2C1489.6 1256.0 1492.4 1254.7 1495.1 1253.3C1497.8 1251.8 1500.5 1250.3 1503.1 1248.6C1505.7 1247.0 1508.2 1245.2 1510.5 1243.4C1512.9 1241.5 1515.2 1239.6 1517.4 1237.5C1519.6 1235.4 1521.6 1233.2 1523.5 1231.0C1525.4 1228.7 1527.2 1226.3 1528.8 1223.9C1530.5 1221.4 1532.0 1218.9 1533.4 1216.3C1534.9 1213.7 1536.2 1211.1 1537.4 1208.4C1538.6 1205.6 1539.8 1202.9 1540.9 1200.1C1542.0 1197.3 1543.0 1194.5 1544.0 1191.6C1544.9 1188.7 1545.9 1185.9 1546.8 1183.0C1547.7 1180.1 1548.5 1177.2 1549.4 1174.3C1550.2 1171.4 1551.1 1168.5 1551.9 1165.7C1552.7 1162.8 1553.4 1159.9 1554.2 1157.0C1554.9 1154.1 1555.7 1151.1 1556.4 1148.2C1557.1 1145.3 1557.8 1142.4 1558.5 1139.5C1559.1 1136.6 1559.8 1133.7 1560.4 1130.7C1561.0 1127.8 1561.7 1124.9 1562.3 1122.0C1562.9 1119.0 1563.4 1116.1 1564.0 1113.2C1564.6 1110.3 1565.1 1107.3 1565.7 1104.4C1566.2 1101.4 1566.7 1098.5 1567.3 1095.6C1567.8 1092.6 1568.3 1089.7 1568.8 1086.7C1569.3 1083.8 1569.8 1080.9 1570.3 1077.9C1570.7 1075.0 1571.2 1072.0 1571.7 1069.1C1572.1 1066.1 1572.6 1063.1 1573.0 1060.2C1573.5 1057.2 1573.9 1054.3 1574.4 1051.3C1574.8 1048.4 1575.3 1045.4 1575.7 1042.4C1576.1 1039.5 1576.6 1036.5 1577.0 1033.6C1577.4 1030.6 1577.9 1027.6 1578.3 1024.7C1578.7 1021.7 1579.2 1018.7 1579.6 1015.8C1580.0 1012.8 1580.5 1009.8 1580.9 1006.9C1581.3 1003.9 1581.8 1000.9 1582.2 998.0C1582.7 995.0 1583.1 992.0 1583.6 989.0C1584.1 986.1 1584.5 983.1 1585.0 980.1C1585.5 977.2 1586.0 974.2 1586.5 971.2C1587.0 968.3 1587.5 965.3 1588.0 962.3C1588.5 959.3 1589.0 956.4 1589.6 953.4C1590.1 950.4 1590.7 947.5 1591.3 944.5C1591.8 941.5 1592.4 938.6 1593.0 935.6C1593.6 932.6 1594.2 929.7 1594.9 926.7C1595.5 923.7 1596.1 920.7 1596.8 917.8C1597.5 914.9 1598.3 912.0 1599.6 909.4C1600.8 906.8 1602.5 904.3 1604.8 902.8C1607.1 901.3 1609.8 901.8 1611.9 903.4C1614.1 904.9 1615.5 907.6 1616.5 910.7C1617.6 913.7 1618.2 917.2 1618.8 920.6C1619.3 923.9 1619.8 927.0 1620.3 930.0C1620.8 932.9 1621.3 935.8 1621.7 938.6C1622.2 941.4 1622.7 944.2 1623.1 947.1C1623.6 949.9 1624.1 952.8 1624.6 955.7C1625.0 958.6 1625.5 961.5 1626.0 964.5C1626.5 967.4 1627.0 970.3 1627.5 973.3C1628.0 976.2 1628.5 979.2 1629.0 982.2C1629.5 985.1 1630.0 988.1 1630.5 991.1C1631.0 994.1 1631.6 997.1 1632.1 1000.0C1632.6 1003.0 1633.1 1006.0 1633.6 1009.0C1634.1 1011.9 1634.6 1014.9 1635.1 1017.9C1635.6 1020.8 1636.1 1023.8 1636.6 1026.7C1637.1 1029.7 1637.7 1032.6 1638.2 1035.6C1638.7 1038.5 1639.2 1041.5 1639.7 1044.4C1640.2 1047.4 1640.7 1050.3 1641.2 1053.3C1641.7 1056.2 1642.2 1059.2 1642.7 1062.1C1643.2 1065.1 1643.6 1068.0 1644.1 1071.0C1644.6 1073.9 1645.1 1076.8 1645.6 1079.8C1646.1 1082.7 1646.6 1085.7 1647.0 1088.6C1647.5 1091.6 1648.0 1094.5 1648.5 1097.5C1648.9 1100.4 1649.4 1103.4 1649.9 1106.3C1650.3 1109.3 1650.8 1112.2 1651.2 1115.2C1651.7 1118.2 1652.1 1121.1 1652.6 1124.1C1653.0 1127.1 1653.5 1130.0 1653.9 1133.0C1654.4 1136.0 1654.8 1138.9 1655.3 1141.9C1655.7 1144.9 1656.2 1147.8 1656.6 1150.8C1657.1 1153.8 1657.6 1156.8 1658.0 1159.7C1658.5 1162.7 1659.0 1165.7 1659.5 1168.6C1660.0 1171.6 1660.6 1174.5 1661.1 1177.5C1661.7 1180.4 1662.2 1183.4 1662.8 1186.3C1663.4 1189.3 1664.0 1192.2 1664.7 1195.1C1665.3 1198.0 1666.0 1200.9 1666.7 1203.9C1667.4 1206.8 1668.2 1209.7 1669.0 1212.5C1669.7 1215.4 1670.5 1218.3 1671.4 1221.2C1672.3 1224.0 1673.2 1226.9 1674.1 1229.7C1675.0 1232.6 1676.0 1235.4 1677.1 1238.2C1678.1 1241.0 1679.2 1243.8 1680.3 1246.6C1681.4 1249.4 1682.6 1252.1 1683.9 1254.9C1685.1 1257.6 1686.4 1260.3 1687.8 1263.0C1689.2 1265.7 1690.7 1268.3 1692.2 1270.8C1693.8 1273.4 1695.5 1275.8 1697.3 1278.2C1699.0 1280.5 1700.9 1282.8 1703.0 1285.0C1705.0 1287.1 1707.2 1289.1 1709.5 1291.0C1711.8 1292.9 1714.2 1294.6 1716.8 1296.2C1719.3 1297.8 1721.9 1299.3 1724.7 1300.7C1727.4 1302.1 1730.2 1303.3 1733.0 1304.5C1735.8 1305.7 1738.7 1306.7 1741.5 1307.7C1744.4 1308.7 1747.3 1309.6 1750.2 1310.4C1753.1 1311.2 1756.0 1311.9 1758.9 1312.6C1761.8 1313.3 1764.7 1313.9 1767.6 1314.4C1770.6 1315.0 1773.5 1315.5 1776.4 1315.9C1779.4 1316.4 1782.3 1316.8 1785.3 1317.2C1788.2 1317.6 1791.2 1317.9 1794.1 1318.3C1797.1 1318.6 1800.1 1318.9 1803.0 1319.2C1806.0 1319.5 1809.0 1319.8 1811.9 1320.1C1814.9 1320.4 1817.9 1320.7 1820.9 1321.1C1823.8 1321.4 1826.8 1321.7 1829.8 1322.1C1832.8 1322.5 1835.7 1322.9 1838.7 1323.3C1841.7 1323.7 1844.6 1324.1 1847.6 1324.6C1850.6 1325.1 1853.6 1325.5 1856.5 1326.0C1859.5 1326.5 1862.5 1327.0 1865.4 1327.4C1868.4 1327.9 1871.4 1328.4 1874.3 1328.8C1877.3 1329.3 1880.3 1329.7 1883.2 1330.1C1886.2 1330.5 1889.2 1330.9 1892.2 1331.3C1895.1 1331.6 1898.1 1331.9 1901.1 1332.2C1904.0 1332.4 1907.0 1332.7 1910.0 1332.8" stroke="#812CA2"/>
</g>
<!-- y tick labels -->
<g class="tk" text-anchor="end">
<text x="174.5" y="96.7">7</text><text x="174.5" y="276.7">6</text><text x="174.5" y="456.7">5</text><text x="174.5" y="636.7">4</text><text x="174.5" y="816.7">3</text><text x="174.5" y="996.7">2</text><text x="174.5" y="1176.7">1</text><text x="174.5" y="1356.2">0</text>
</g>
<!-- x tick labels -->
<g class="tk" text-anchor="middle">
<text x="224.6" y="1425.7">300</text><text x="639.7" y="1425.7">400</text><text x="1054.8" y="1425.7">500</text><text x="1469.8" y="1425.7">600</text><text x="1885" y="1425.7">700</text>
</g>
<!-- axis titles -->
<text class="ti" x="769" y="1529">Wavelength (nm)</text>
<g class="ti" transform="translate(96,866) rotate(-90)">
<text x="11.6" y="0" style="font-family:'DejaVu Serif','Liberation Serif',serif;font-style:italic;font-size:66.67px">ε</text>
<text x="59.4" y="0">x 10</text>
<text x="188.9" y="-18" style="font-size:44.4px;font-weight:normal">−</text>
<text x="209.8" y="-20" style="font-size:44.4px">4</text>
<text x="255.2" y="0">M</text>
<text x="306.3" y="-18.5" style="font-family:'DejaVu Sans',sans-serif;font-size:44.7px;font-weight:normal">−</text>
<text x="329.9" y="-20" style="font-size:44.4px">1</text>
<text x="356.2" y="0">cm</text>
<text x="449.4" y="-18.5" style="font-family:'DejaVu Sans',sans-serif;font-size:44.7px;font-weight:normal">−</text>
<text x="472.5" y="-20" style="font-size:44.4px">1</text>
</g>
<!-- legend -->
<g fill="none" stroke-width="16.3" stroke-linecap="round">
<path d="M980.4 239.8H1140" stroke="#FF0000"/>
<path d="M980.1 376.9H1140.3" stroke="#00B050" stroke-width="14.5"/>
<path d="M980.4 513.1H1140" stroke="#0070C0"/>
<path d="M980.4 649.4H1140" stroke="#812CA2"/>
</g>
<g class="lg">
<text x="1156" y="258.7">Nickel(II) complex</text>
<text x="1156" y="395.5">Copper(II) complex</text>
<text x="1155.3" y="532.3">Zinc complex</text>
<text x="1155.3" y="668.8">Zinc complex + pyrrolidine</text>
</g>
</svg>
</body></html>
